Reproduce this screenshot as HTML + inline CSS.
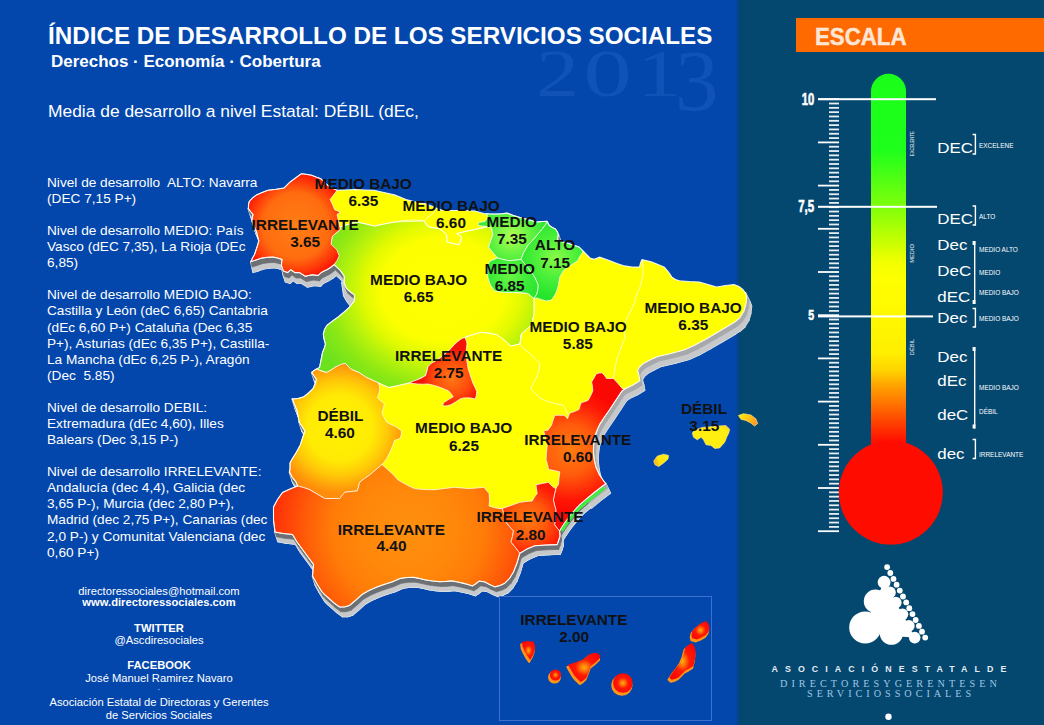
<!DOCTYPE html>
<html lang="es"><head><meta charset="utf-8"><title>Índice de desarrollo de los servicios sociales 2013</title>
<style>
html,body{margin:0;padding:0}
body{width:1044px;height:725px;overflow:hidden;background:#0347ad;font-family:"Liberation Sans",sans-serif;position:relative}
#stage{position:absolute;left:0;top:0;width:1044px;height:725px;overflow:hidden;background:#0347ad}
#panel{position:absolute;left:740.5px;top:0;width:303.5px;height:725px;background:#044870}
#pshadow{position:absolute;left:735.0px;top:0;width:6px;height:725px;background:linear-gradient(to right,rgba(4,72,112,0),rgba(3,68,104,1))}
#bar{position:absolute;left:796px;top:18px;width:248px;height:33.5px;background:#ff6a00}
#bar span{position:absolute;left:18.5px;top:3.7px;font-weight:bold;font-size:24.3px;line-height:30px;color:#fde6d6;-webkit-text-stroke:0.45px #fde6d6;transform-origin:0 50%;transform:scaleX(0.916)}
#year{position:absolute;left:533px;top:30.5px;font-family:"Liberation Serif",serif;font-weight:bold;font-size:82px;line-height:90px;color:rgba(110,165,255,0.17);white-space:nowrap;transform-origin:0 0;transform:scale(1.15,1.0)}
#title{position:absolute;left:48.4px;top:22.4px;font-weight:bold;font-size:23px;line-height:28px;color:#fff;white-space:nowrap;transform-origin:0 50%;transform:scaleX(1.0531)}
#sub{position:absolute;left:51px;top:51.5px;font-weight:bold;font-size:16.8px;line-height:20px;color:#fff;white-space:nowrap;transform-origin:0 50%;transform:scaleX(1.011)}
#media{position:absolute;left:48.3px;top:101.3px;font-size:16.3px;line-height:20px;color:#fff;white-space:nowrap;transform-origin:0 50%;transform:scaleX(1.069)}
.pl{position:absolute;left:47.3px;font-size:12.6px;line-height:16px;height:16px;color:#fff;white-space:nowrap;transform-origin:0 50%;transform:scaleX(1.084)}
.ct{position:absolute;left:8.9px;width:300px;text-align:center;font-size:11px;line-height:14px;height:14px;color:#fff;white-space:nowrap;transform:scaleX(1.018)}
.ct.b{font-weight:bold}
svg{position:absolute;left:0;top:0}
svg text{font-family:"Liberation Sans",sans-serif}
#yearg text{font-family:"Liberation Serif",serif}
.ml{font-weight:bold;font-size:14.7px;fill:#111;text-anchor:middle}
.num{font-weight:bold;font-size:13.5px;fill:#fff;stroke:#fff;stroke-width:0.6px}
.tiny{font-size:6px;fill:#e8eef5}
.dec{font-size:15.1px;fill:#fff}
.lvl{font-size:7.6px;fill:#fff}
.as1{font-weight:bold;font-size:8.8px;fill:#e4ecf5;letter-spacing:0px}
.as2{font-family:"Liberation Serif",serif;font-size:10.2px;fill:#9fc6e6;letter-spacing:0px}
</style></head>
<body>
<div id="stage">
<div id="panel"></div><div id="pshadow"></div>
<svg width="1044" height="725" viewBox="0 0 1044 725" id="yearsvg">
<g style="font-family:'Liberation Serif',serif" fill="#2a66c8" fill-opacity="0.36" id="yearg">
<text id="y2" transform="translate(536,96.3) scale(1.27,1)" font-size="68">2</text>
<text id="y0" transform="translate(583.5,96.3) scale(1.42,1)" font-size="68">0</text>
<text id="y1" transform="translate(637,96.3) scale(1.3,1)" font-size="68">1</text>
<text id="y3" transform="translate(675,109.8) scale(1.0,1)" font-size="87">3</text>
</g></svg>
<div id="title">ÍNDICE DE DESARROLLO DE LOS SERVICIOS SOCIALES</div>
<div id="sub">Derechos · Economía · Cobertura</div>
<div id="media">Media de desarrollo a nivel Estatal: DÉBIL (dEc,</div>
<div id="bar"><span>ESCALA</span></div>
<div class="pl" style="top:174.7px">Nivel de desarrollo&nbsp; ALTO: Navarra</div>
<div class="pl" style="top:190.8px">(DEC 7,15 P+)</div>
<div class="pl" style="top:223.0px">Nivel de desarrollo MEDIO: País</div>
<div class="pl" style="top:239.1px">Vasco (dEC 7,35), La Rioja (DEc</div>
<div class="pl" style="top:255.1px">6,85)</div>
<div class="pl" style="top:287.3px">Nivel de desarrollo MEDIO BAJO:</div>
<div class="pl" style="top:303.4px">Castilla y León (deC 6,65) Cantabria</div>
<div class="pl" style="top:319.5px">(dEc 6,60 P+) Cataluña (Dec 6,35</div>
<div class="pl" style="top:335.5px">P+), Asturias (dEc 6,35 P+), Castilla-</div>
<div class="pl" style="top:351.6px">La Mancha (dEc 6,25 P-), Aragón</div>
<div class="pl" style="top:367.7px">(Dec&nbsp; 5.85)</div>
<div class="pl" style="top:399.9px">Nivel de desarrollo DEBIL:</div>
<div class="pl" style="top:415.9px">Extremadura (dEc 4,60), Illes</div>
<div class="pl" style="top:432.0px">Balears (Dec 3,15 P-)</div>
<div class="pl" style="top:464.2px">Nivel de desarrollo IRRELEVANTE:</div>
<div class="pl" style="top:480.3px">Andalucía (dec 4,4), Galicia (dec</div>
<div class="pl" style="top:496.3px">3,65 P-), Murcia (dec 2,80 P+),</div>
<div class="pl" style="top:512.4px">Madrid (dec 2,75 P+), Canarias (dec</div>
<div class="pl" style="top:528.5px">2,0 P-) y Comunitat Valenciana (dec</div>
<div class="pl" style="top:544.6px">0,60 P+)</div>
<div class="ct" style="top:583.9px">directoressociales@hotmail.com</div>
<div class="ct b" style="top:595.4px">www.directoressociales.com</div>
<div class="ct b" style="top:620.7px">TWITTER</div>
<div class="ct" style="top:632.9px">@Ascdiresociales</div>
<div class="ct b" style="top:658.2px">FACEBOOK</div>
<div class="ct" style="top:670.6px">José Manuel Ramirez Navaro</div>
<div class="ct" style="top:695.4px">Asociación Estatal de Directoras y Gerentes</div>
<div class="ct" style="top:708.1px">de Servicios Sociales</div>
<svg width="1044" height="725" viewBox="0 0 1044 725">
<defs><linearGradient id="tubeg" x1="0" y1="73.8" x2="0" y2="473" gradientUnits="userSpaceOnUse"><stop offset="0" stop-color="#1aff1a"/><stop offset="0.19" stop-color="#1eff1c"/><stop offset="0.334" stop-color="#80ff0a"/><stop offset="0.434" stop-color="#d2ff00"/><stop offset="0.475" stop-color="#f4ff00"/><stop offset="0.52" stop-color="#ffff00"/><stop offset="0.697" stop-color="#fff000"/><stop offset="0.742" stop-color="#ffd400"/><stop offset="0.78" stop-color="#ffa400"/><stop offset="0.85" stop-color="#ff5a00"/><stop offset="0.917" stop-color="#ff1400"/><stop offset="1" stop-color="#ff0a00"/></linearGradient><filter id="soft" x="-10%" y="-10%" width="120%" height="120%"><feGaussianBlur stdDeviation="1.6"/></filter><clipPath id="spainclip"><path d="M301.3 173.7 L306.0 174.3 L311.7 175.3 L316.0 177.0 L320.9 178.8 L324.0 182.0 L328.0 185.5 L332.0 188.0 L337.0 190.3 L345.0 190.0 L355.0 189.5 L365.0 190.0 L373.7 190.3 L384.0 192.5 L394.4 194.9 L400.0 197.0 L405.9 199.5 L416.0 202.0 L426.6 204.1 L435.0 207.5 L442.7 210.5 L455.0 210.5 L465.0 210.5 L474.9 211.0 L480.0 212.5 L484.0 213.5 L490.0 214.0 L496.0 214.0 L501.7 213.8 L507.2 213.1 L512.8 215.2 L520.0 217.5 L528.0 219.5 L536.2 222.1 L542.0 221.5 L547.2 221.4 L549.3 225.5 L552.5 227.5 L555.5 229.0 L557.5 232.0 L558.3 234.5 L557.6 240.0 L562.0 241.8 L566.6 242.8 L573.0 245.0 L579.0 246.9 L583.1 251.0 L586.5 254.5 L590.0 257.9 L594.1 259.3 L599.7 257.2 L605.0 259.0 L610.0 260.7 L617.0 263.5 L624.5 265.9 L632.0 267.0 L639.5 267.1 L640.5 263.0 L642.0 259.6 L647.0 260.8 L652.0 262.1 L658.0 264.5 L664.4 267.1 L668.5 272.0 L671.9 277.1 L675.5 279.5 L679.3 280.8 L689.0 281.5 L699.3 282.0 L708.0 284.5 L716.7 287.0 L725.5 285.5 L734.1 284.5 L739.0 286.5 L742.8 289.5 L745.5 293.0 L746.8 296.9 L746.0 304.0 L744.0 311.0 L739.9 317.6 L735.5 321.5 L730.7 324.5 L718.0 332.0 L705.4 339.4 L695.0 345.0 L684.7 349.8 L671.0 353.5 L657.1 356.7 L650.0 360.0 L643.3 363.6 L639.5 367.0 L637.6 370.5 L639.0 375.5 L639.9 380.8 L633.0 385.0 L624.9 388.9 L622.0 391.0 L616.0 400.0 L609.6 409.7 L604.5 417.0 L599.6 424.6 L596.8 431.0 L594.6 437.1 L593.6 445.0 L593.4 452.0 L594.3 460.0 L595.9 467.0 L599.5 474.9 L603.0 480.0 L605.7 483.6 L600.0 488.0 L594.5 492.3 L587.0 498.5 L579.6 504.8 L573.0 512.0 L567.1 519.7 L563.0 525.5 L559.6 530.9 L560.0 536.0 L558.5 541.0 L557.1 544.6 L546.0 545.0 L534.7 545.8 L527.0 549.0 L519.8 553.3 L517.0 563.0 L513.5 572.0 L509.5 578.5 L504.8 583.2 L500.0 585.5 L494.9 586.9 L489.5 584.5 L484.9 582.0 L479.3 581.0 L475.5 584.0 L472.4 586.0 L468.0 584.5 L463.8 583.4 L457.5 582.0 L451.7 580.9 L445.5 581.5 L439.7 581.7 L432.5 581.0 L425.9 580.0 L419.5 578.5 L413.8 577.4 L407.0 577.5 L400.0 578.5 L392.0 582.0 L384.0 584.5 L377.0 587.0 L369.0 590.5 L362.0 594.5 L356.0 600.0 L349.5 605.5 L344.5 607.0 L339.5 607.0 L334.0 603.0 L328.5 598.0 L325.0 595.0 L322.0 592.0 L317.0 584.0 L312.5 576.0 L313.0 570.0 L313.5 564.5 L308.0 557.0 L302.5 549.5 L297.0 542.0 L292.5 534.5 L283.0 533.5 L275.0 532.0 L273.5 520.0 L273.5 507.0 L277.5 499.5 L282.5 492.5 L290.0 489.0 L297.5 486.0 L296.0 482.0 L292.0 477.0 L289.5 472.0 L290.0 468.0 L290.0 463.0 L292.3 458.7 L296.5 452.0 L300.3 444.9 L302.5 438.0 L304.9 431.1 L302.0 426.5 L299.2 422.0 L298.0 416.0 L296.9 410.5 L294.5 404.5 L292.3 399.0 L298.0 398.5 L303.8 396.7 L308.5 393.0 L313.0 388.6 L315.0 384.0 L316.4 379.4 L314.0 376.0 L311.8 372.5 L314.0 370.5 L316.4 369.1 L319.5 367.5 L321.0 360.0 L322.5 352.5 L324.5 347.5 L325.4 344.2 L324.0 339.0 L323.3 334.1 L324.5 329.5 L326.9 325.4 L332.5 321.0 L338.5 316.7 L343.5 312.5 L348.6 308.0 L351.5 304.5 L354.4 300.8 L354.4 295.0 L350.5 292.0 L347.1 289.2 L345.5 286.5 L344.2 283.4 L344.2 276.2 L340.0 270.0 L334.1 264.6 L330.5 267.5 L326.9 269.7 L324.0 271.0 L321.1 272.6 L318.2 275.5 L312.4 274.7 L305.2 276.2 L299.4 272.6 L295.0 272.6 L290.7 269.7 L287.8 272.6 L283.4 271.1 L281.3 265.3 L282.0 259.5 L277.5 258.0 L273.3 257.1 L267.5 257.3 L261.7 258.1 L256.0 260.0 L250.9 261.7 L252.5 258.0 L254.5 254.5 L256.0 250.0 L257.4 245.8 L258.8 240.9 L257.5 236.0 L256.5 231.7 L254.0 226.0 L251.9 220.2 L252.5 217.0 L253.0 214.4 L250.5 211.5 L248.4 208.7 L248.5 205.0 L249.1 201.8 L252.5 198.0 L256.5 194.9 L262.0 192.5 L268.0 190.3 L276.0 189.3 L284.0 188.0 L287.0 185.0 L289.8 182.2 L295.5 178.0Z"/></clipPath><radialGradient id="g_cyl" gradientUnits="userSpaceOnUse" cx="0" cy="0" r="1" gradientTransform="translate(443,290) scale(152,128)"><stop offset="0" stop-color="#ffff00"/><stop offset="0.40" stop-color="#fdff00"/><stop offset="0.52" stop-color="#e2fa00"/><stop offset="0.64" stop-color="#b6f20c"/><stop offset="0.77" stop-color="#8ce814"/><stop offset="0.92" stop-color="#6ce21e"/></radialGradient><radialGradient id="g_gal" gradientUnits="userSpaceOnUse" cx="296" cy="226" r="55"><stop offset="0" stop-color="#ff7e14"/><stop offset="0.6" stop-color="#ff6c10"/><stop offset="0.85" stop-color="#ff3208"/><stop offset="1" stop-color="#f80c04"/></radialGradient><radialGradient id="g_ext" gradientUnits="userSpaceOnUse" cx="340" cy="428" r="66"><stop offset="0" stop-color="#fff200"/><stop offset="0.5" stop-color="#ffea04"/><stop offset="0.72" stop-color="#ffc808"/><stop offset="0.9" stop-color="#ffa00a"/><stop offset="1" stop-color="#ff8c0a"/></radialGradient><radialGradient id="g_and" gradientUnits="userSpaceOnUse" cx="408" cy="530" r="138"><stop offset="0" stop-color="#ff900e"/><stop offset="0.35" stop-color="#ff870a"/><stop offset="0.55" stop-color="#ff7c08"/><stop offset="0.72" stop-color="#ff6008"/><stop offset="0.88" stop-color="#ff4208"/><stop offset="1" stop-color="#ff2c08"/></radialGradient><radialGradient id="g_mur" gradientUnits="userSpaceOnUse" cx="528" cy="520" r="36"><stop offset="0" stop-color="#ff7a10"/><stop offset="0.5" stop-color="#ff5a0c"/><stop offset="1" stop-color="#ff1a06"/></radialGradient><radialGradient id="g_val" gradientUnits="userSpaceOnUse" cx="570" cy="450" r="62"><stop offset="0" stop-color="#ff7c10"/><stop offset="0.4" stop-color="#ff5c0c"/><stop offset="0.8" stop-color="#ff1806"/><stop offset="1" stop-color="#fa0804"/></radialGradient><radialGradient id="g_mad" gradientUnits="userSpaceOnUse" cx="452" cy="378" r="30"><stop offset="0" stop-color="#ff7a14"/><stop offset="0.6" stop-color="#ff4a0c"/><stop offset="1" stop-color="#f51206"/></radialGradient><radialGradient id="g_bas" gradientUnits="userSpaceOnUse" cx="512" cy="236" r="34"><stop offset="0" stop-color="#b4ff52"/><stop offset="0.5" stop-color="#6af444"/><stop offset="1" stop-color="#30e830"/></radialGradient><radialGradient id="g_rio" gradientUnits="userSpaceOnUse" cx="510" cy="276" r="30"><stop offset="0" stop-color="#6af444"/><stop offset="0.6" stop-color="#3cec36"/><stop offset="1" stop-color="#2ae62e"/></radialGradient><radialGradient id="g_nav" gradientUnits="userSpaceOnUse" cx="556" cy="258" r="40"><stop offset="0" stop-color="#8cfa48"/><stop offset="0.5" stop-color="#4cf03a"/><stop offset="1" stop-color="#24e42c"/></radialGradient><linearGradient id="g_men" x1="0" y1="0" x2="1" y2="0.4"><stop offset="0" stop-color="#ffee10"/><stop offset="0.45" stop-color="#ffd010"/><stop offset="1" stop-color="#ff9a20"/></linearGradient><linearGradient id="g_ibi" x1="0" y1="0.6" x2="1" y2="0.3"><stop offset="0" stop-color="#ffa818"/><stop offset="0.35" stop-color="#ffe410"/><stop offset="1" stop-color="#ffee10"/></linearGradient><radialGradient id="g_mal" cx="0.5" cy="0.5" r="0.62"><stop offset="0" stop-color="#fff010"/><stop offset="0.8" stop-color="#ffec10"/><stop offset="1" stop-color="#ffd020"/></radialGradient><radialGradient id="g_isl" gradientUnits="objectBoundingBox" cx="0.5" cy="0.5" r="0.6"><stop offset="0" stop-color="#ffee00"/><stop offset="0.55" stop-color="#ffe000"/><stop offset="1" stop-color="#ff9a00"/></radialGradient><radialGradient id="g_can" gradientUnits="objectBoundingBox" cx="0.5" cy="0.5" r="0.55"><stop offset="0" stop-color="#ffb010"/><stop offset="0.25" stop-color="#ff6a08"/><stop offset="0.5" stop-color="#ff1a04"/><stop offset="1" stop-color="#f80804"/></radialGradient></defs>
<path d="M301.3 173.7 L306.0 174.3 L311.7 175.3 L316.0 177.0 L320.9 178.8 L324.0 182.0 L328.0 185.5 L332.0 188.0 L337.0 190.3 L345.0 190.0 L355.0 189.5 L365.0 190.0 L373.7 190.3 L384.0 192.5 L394.4 194.9 L400.0 197.0 L405.9 199.5 L416.0 202.0 L426.6 204.1 L435.0 207.5 L442.7 210.5 L455.0 210.5 L465.0 210.5 L474.9 211.0 L480.0 212.5 L484.0 213.5 L490.0 214.0 L496.0 214.0 L501.7 213.8 L507.2 213.1 L512.8 215.2 L520.0 217.5 L528.0 219.5 L536.2 222.1 L542.0 221.5 L547.2 221.4 L549.3 225.5 L552.5 227.5 L555.5 229.0 L557.5 232.0 L558.3 234.5 L557.6 240.0 L562.0 241.8 L566.6 242.8 L573.0 245.0 L579.0 246.9 L583.1 251.0 L586.5 254.5 L590.0 257.9 L594.1 259.3 L599.7 257.2 L605.0 259.0 L610.0 260.7 L617.0 263.5 L624.5 265.9 L632.0 267.0 L639.5 267.1 L640.5 263.0 L642.0 259.6 L647.0 260.8 L652.0 262.1 L658.0 264.5 L664.4 267.1 L668.5 272.0 L671.9 277.1 L675.5 279.5 L679.3 280.8 L689.0 281.5 L699.3 282.0 L708.0 284.5 L716.7 287.0 L725.5 285.5 L734.1 284.5 L739.0 286.5 L742.8 289.5 L745.5 293.0 L746.8 296.9 L746.0 304.0 L744.0 311.0 L739.9 317.6 L735.5 321.5 L730.7 324.5 L718.0 332.0 L705.4 339.4 L695.0 345.0 L684.7 349.8 L671.0 353.5 L657.1 356.7 L650.0 360.0 L643.3 363.6 L639.5 367.0 L637.6 370.5 L639.0 375.5 L639.9 380.8 L633.0 385.0 L624.9 388.9 L622.0 391.0 L616.0 400.0 L609.6 409.7 L604.5 417.0 L599.6 424.6 L596.8 431.0 L594.6 437.1 L593.6 445.0 L593.4 452.0 L594.3 460.0 L595.9 467.0 L599.5 474.9 L603.0 480.0 L605.7 483.6 L600.0 488.0 L594.5 492.3 L587.0 498.5 L579.6 504.8 L573.0 512.0 L567.1 519.7 L563.0 525.5 L559.6 530.9 L560.0 536.0 L558.5 541.0 L557.1 544.6 L546.0 545.0 L534.7 545.8 L527.0 549.0 L519.8 553.3 L517.0 563.0 L513.5 572.0 L509.5 578.5 L504.8 583.2 L500.0 585.5 L494.9 586.9 L489.5 584.5 L484.9 582.0 L479.3 581.0 L475.5 584.0 L472.4 586.0 L468.0 584.5 L463.8 583.4 L457.5 582.0 L451.7 580.9 L445.5 581.5 L439.7 581.7 L432.5 581.0 L425.9 580.0 L419.5 578.5 L413.8 577.4 L407.0 577.5 L400.0 578.5 L392.0 582.0 L384.0 584.5 L377.0 587.0 L369.0 590.5 L362.0 594.5 L356.0 600.0 L349.5 605.5 L344.5 607.0 L339.5 607.0 L334.0 603.0 L328.5 598.0 L325.0 595.0 L322.0 592.0 L317.0 584.0 L312.5 576.0 L313.0 570.0 L313.5 564.5 L308.0 557.0 L302.5 549.5 L297.0 542.0 L292.5 534.5 L283.0 533.5 L275.0 532.0 L273.5 520.0 L273.5 507.0 L277.5 499.5 L282.5 492.5 L290.0 489.0 L297.5 486.0 L296.0 482.0 L292.0 477.0 L289.5 472.0 L290.0 468.0 L290.0 463.0 L292.3 458.7 L296.5 452.0 L300.3 444.9 L302.5 438.0 L304.9 431.1 L302.0 426.5 L299.2 422.0 L298.0 416.0 L296.9 410.5 L294.5 404.5 L292.3 399.0 L298.0 398.5 L303.8 396.7 L308.5 393.0 L313.0 388.6 L315.0 384.0 L316.4 379.4 L314.0 376.0 L311.8 372.5 L314.0 370.5 L316.4 369.1 L319.5 367.5 L321.0 360.0 L322.5 352.5 L324.5 347.5 L325.4 344.2 L324.0 339.0 L323.3 334.1 L324.5 329.5 L326.9 325.4 L332.5 321.0 L338.5 316.7 L343.5 312.5 L348.6 308.0 L351.5 304.5 L354.4 300.8 L354.4 295.0 L350.5 292.0 L347.1 289.2 L345.5 286.5 L344.2 283.4 L344.2 276.2 L340.0 270.0 L334.1 264.6 L330.5 267.5 L326.9 269.7 L324.0 271.0 L321.1 272.6 L318.2 275.5 L312.4 274.7 L305.2 276.2 L299.4 272.6 L295.0 272.6 L290.7 269.7 L287.8 272.6 L283.4 271.1 L281.3 265.3 L282.0 259.5 L277.5 258.0 L273.3 257.1 L267.5 257.3 L261.7 258.1 L256.0 260.0 L250.9 261.7 L252.5 258.0 L254.5 254.5 L256.0 250.0 L257.4 245.8 L258.8 240.9 L257.5 236.0 L256.5 231.7 L254.0 226.0 L251.9 220.2 L252.5 217.0 L253.0 214.4 L250.5 211.5 L248.4 208.7 L248.5 205.0 L249.1 201.8 L252.5 198.0 L256.5 194.9 L262.0 192.5 L268.0 190.3 L276.0 189.3 L284.0 188.0 L287.0 185.0 L289.8 182.2 L295.5 178.0Z" transform="translate(3.0,9.4)" fill="#c6c8ca" stroke="#e6ecf4" stroke-width="1.6" stroke-linejoin="round"/>
<path d="M558.3 234.5L557.6 240.0L560.6 249.4L561.3 243.9Z" fill="#c6c8ca" stroke="#e6ecf4" stroke-width="1.7" stroke-linejoin="round"/>
<path d="M745.5 293.0L746.8 296.9L751.4 306.3L750.1 302.4Z" fill="#c6c8ca" stroke="#e6ecf4" stroke-width="1.7" stroke-linejoin="round"/>
<path d="M746.8 296.9L746.0 304.0L750.6 313.4L751.4 306.3Z" fill="#c6c8ca" stroke="#e6ecf4" stroke-width="1.7" stroke-linejoin="round"/>
<path d="M746.0 304.0L744.0 311.0L748.6 320.4L750.6 313.4Z" fill="#c6c8ca" stroke="#e6ecf4" stroke-width="1.7" stroke-linejoin="round"/>
<path d="M744.0 311.0L739.9 317.6L744.5 327.0L748.6 320.4Z" fill="#c6c8ca" stroke="#e6ecf4" stroke-width="1.7" stroke-linejoin="round"/>
<path d="M739.9 317.6L735.5 321.5L740.1 330.9L744.5 327.0Z" fill="#c6c8ca" stroke="#e6ecf4" stroke-width="1.7" stroke-linejoin="round"/>
<path d="M735.5 321.5L730.7 324.5L735.3 333.9L740.1 330.9Z" fill="#c6c8ca" stroke="#e6ecf4" stroke-width="1.7" stroke-linejoin="round"/>
<path d="M730.7 324.5L718.0 332.0L722.6 341.4L735.3 333.9Z" fill="#c6c8ca" stroke="#e6ecf4" stroke-width="1.7" stroke-linejoin="round"/>
<path d="M718.0 332.0L705.4 339.4L710.0 348.8L722.6 341.4Z" fill="#c6c8ca" stroke="#e6ecf4" stroke-width="1.7" stroke-linejoin="round"/>
<path d="M705.4 339.4L695.0 345.0L699.6 354.4L710.0 348.8Z" fill="#c6c8ca" stroke="#e6ecf4" stroke-width="1.7" stroke-linejoin="round"/>
<path d="M695.0 345.0L684.7 349.8L689.3 359.2L699.6 354.4Z" fill="#c6c8ca" stroke="#e6ecf4" stroke-width="1.7" stroke-linejoin="round"/>
<path d="M684.7 349.8L671.0 353.5L675.6 362.9L689.3 359.2Z" fill="#c6c8ca" stroke="#e6ecf4" stroke-width="1.7" stroke-linejoin="round"/>
<path d="M671.0 353.5L657.1 356.7L661.7 366.1L675.6 362.9Z" fill="#c6c8ca" stroke="#e6ecf4" stroke-width="1.7" stroke-linejoin="round"/>
<path d="M657.1 356.7L650.0 360.0L654.6 369.4L661.7 366.1Z" fill="#c6c8ca" stroke="#e6ecf4" stroke-width="1.7" stroke-linejoin="round"/>
<path d="M650.0 360.0L643.3 363.6L647.9 373.0L654.6 369.4Z" fill="#c6c8ca" stroke="#e6ecf4" stroke-width="1.7" stroke-linejoin="round"/>
<path d="M643.3 363.6L639.5 367.0L644.1 376.4L647.9 373.0Z" fill="#c6c8ca" stroke="#e6ecf4" stroke-width="1.7" stroke-linejoin="round"/>
<path d="M639.5 367.0L637.6 370.5L642.2 379.9L644.1 376.4Z" fill="#c6c8ca" stroke="#e6ecf4" stroke-width="1.7" stroke-linejoin="round"/>
<path d="M637.6 370.5L639.0 375.5L643.6 384.9L642.2 379.9Z" fill="#c6c8ca" stroke="#e6ecf4" stroke-width="1.7" stroke-linejoin="round"/>
<path d="M639.0 375.5L639.9 380.8L644.5 390.2L643.6 384.9Z" fill="#c6c8ca" stroke="#e6ecf4" stroke-width="1.7" stroke-linejoin="round"/>
<path d="M639.9 380.8L633.0 385.0L637.6 394.4L644.5 390.2Z" fill="#c6c8ca" stroke="#e6ecf4" stroke-width="1.7" stroke-linejoin="round"/>
<path d="M633.0 385.0L624.9 388.9L629.5 398.3L637.6 394.4Z" fill="#c6c8ca" stroke="#e6ecf4" stroke-width="1.7" stroke-linejoin="round"/>
<path d="M624.9 388.9L622.0 391.0L626.6 400.4L629.5 398.3Z" fill="#c6c8ca" stroke="#e6ecf4" stroke-width="1.7" stroke-linejoin="round"/>
<path d="M622.0 391.0L616.0 400.0L620.6 409.4L626.6 400.4Z" fill="#c6c8ca" stroke="#e6ecf4" stroke-width="1.7" stroke-linejoin="round"/>
<path d="M616.0 400.0L609.6 409.7L614.2 419.1L620.6 409.4Z" fill="#c6c8ca" stroke="#e6ecf4" stroke-width="1.7" stroke-linejoin="round"/>
<path d="M609.6 409.7L604.5 417.0L609.1 426.4L614.2 419.1Z" fill="#c6c8ca" stroke="#e6ecf4" stroke-width="1.7" stroke-linejoin="round"/>
<path d="M604.5 417.0L599.6 424.6L604.2 434.0L609.1 426.4Z" fill="#c6c8ca" stroke="#e6ecf4" stroke-width="1.7" stroke-linejoin="round"/>
<path d="M599.6 424.6L596.8 431.0L601.4 440.4L604.2 434.0Z" fill="#c6c8ca" stroke="#e6ecf4" stroke-width="1.7" stroke-linejoin="round"/>
<path d="M596.8 431.0L594.6 437.1L599.2 446.5L601.4 440.4Z" fill="#c6c8ca" stroke="#e6ecf4" stroke-width="1.7" stroke-linejoin="round"/>
<path d="M594.6 437.1L593.6 445.0L598.2 454.4L599.2 446.5Z" fill="#c6c8ca" stroke="#e6ecf4" stroke-width="1.7" stroke-linejoin="round"/>
<path d="M593.6 445.0L593.4 452.0L598.0 461.4L598.2 454.4Z" fill="#c6c8ca" stroke="#e6ecf4" stroke-width="1.7" stroke-linejoin="round"/>
<path d="M593.4 452.0L594.3 460.0L598.9 469.4L598.0 461.4Z" fill="#c6c8ca" stroke="#e6ecf4" stroke-width="1.7" stroke-linejoin="round"/>
<path d="M594.3 460.0L595.9 467.0L600.5 476.4L598.9 469.4Z" fill="#c6c8ca" stroke="#e6ecf4" stroke-width="1.7" stroke-linejoin="round"/>
<path d="M595.9 467.0L599.5 474.9L604.1 484.3L600.5 476.4Z" fill="#c6c8ca" stroke="#e6ecf4" stroke-width="1.7" stroke-linejoin="round"/>
<path d="M605.7 483.6L600.0 488.0L604.6 497.4L610.3 493.0Z" fill="#c6c8ca" stroke="#e6ecf4" stroke-width="1.7" stroke-linejoin="round"/>
<path d="M600.0 488.0L594.5 492.3L599.1 501.7L604.6 497.4Z" fill="#c6c8ca" stroke="#e6ecf4" stroke-width="1.7" stroke-linejoin="round"/>
<path d="M594.5 492.3L587.0 498.5L591.6 507.9L599.1 501.7Z" fill="#c6c8ca" stroke="#e6ecf4" stroke-width="1.7" stroke-linejoin="round"/>
<path d="M587.0 498.5L579.6 504.8L582.6 514.2L590.0 507.9Z" fill="#c6c8ca" stroke="#e6ecf4" stroke-width="1.7" stroke-linejoin="round"/>
<path d="M579.6 504.8L573.0 512.0L576.0 521.4L582.6 514.2Z" fill="#c6c8ca" stroke="#e6ecf4" stroke-width="1.7" stroke-linejoin="round"/>
<path d="M573.0 512.0L567.1 519.7L570.1 529.1L576.0 521.4Z" fill="#c6c8ca" stroke="#e6ecf4" stroke-width="1.7" stroke-linejoin="round"/>
<path d="M567.1 519.7L563.0 525.5L566.0 534.9L570.1 529.1Z" fill="#c6c8ca" stroke="#e6ecf4" stroke-width="1.7" stroke-linejoin="round"/>
<path d="M563.0 525.5L559.6 530.9L562.6 540.3L566.0 534.9Z" fill="#c6c8ca" stroke="#e6ecf4" stroke-width="1.7" stroke-linejoin="round"/>
<path d="M559.6 530.9L560.0 536.0L563.0 545.4L562.6 540.3Z" fill="#c6c8ca" stroke="#e6ecf4" stroke-width="1.7" stroke-linejoin="round"/>
<path d="M560.0 536.0L558.5 541.0L561.5 550.4L563.0 545.4Z" fill="#c6c8ca" stroke="#e6ecf4" stroke-width="1.7" stroke-linejoin="round"/>
<path d="M558.5 541.0L557.1 544.6L560.1 554.0L561.5 550.4Z" fill="#c6c8ca" stroke="#e6ecf4" stroke-width="1.7" stroke-linejoin="round"/>
<path d="M557.1 544.6L546.0 545.0L549.0 554.4L560.1 554.0Z" fill="#c6c8ca" stroke="#e6ecf4" stroke-width="1.7" stroke-linejoin="round"/>
<path d="M546.0 545.0L534.7 545.8L537.7 555.2L549.0 554.4Z" fill="#c6c8ca" stroke="#e6ecf4" stroke-width="1.7" stroke-linejoin="round"/>
<path d="M534.7 545.8L527.0 549.0L530.0 558.4L537.7 555.2Z" fill="#c6c8ca" stroke="#e6ecf4" stroke-width="1.7" stroke-linejoin="round"/>
<path d="M527.0 549.0L519.8 553.3L522.8 562.7L530.0 558.4Z" fill="#c6c8ca" stroke="#e6ecf4" stroke-width="1.7" stroke-linejoin="round"/>
<path d="M519.8 553.3L517.0 563.0L520.0 572.4L522.8 562.7Z" fill="#c6c8ca" stroke="#e6ecf4" stroke-width="1.7" stroke-linejoin="round"/>
<path d="M517.0 563.0L513.5 572.0L516.5 581.4L520.0 572.4Z" fill="#c6c8ca" stroke="#e6ecf4" stroke-width="1.7" stroke-linejoin="round"/>
<path d="M513.5 572.0L509.5 578.5L512.5 587.9L516.5 581.4Z" fill="#c6c8ca" stroke="#e6ecf4" stroke-width="1.7" stroke-linejoin="round"/>
<path d="M509.5 578.5L504.8 583.2L507.8 592.6L512.5 587.9Z" fill="#c6c8ca" stroke="#e6ecf4" stroke-width="1.7" stroke-linejoin="round"/>
<path d="M504.8 583.2L500.0 585.5L503.0 594.9L507.8 592.6Z" fill="#c6c8ca" stroke="#e6ecf4" stroke-width="1.7" stroke-linejoin="round"/>
<path d="M500.0 585.5L494.9 586.9L497.9 596.3L503.0 594.9Z" fill="#c6c8ca" stroke="#e6ecf4" stroke-width="1.7" stroke-linejoin="round"/>
<path d="M494.9 586.9L489.5 584.5L492.5 593.9L497.9 596.3Z" fill="#c6c8ca" stroke="#e6ecf4" stroke-width="1.7" stroke-linejoin="round"/>
<path d="M489.5 584.5L484.9 582.0L487.9 591.4L492.5 593.9Z" fill="#c6c8ca" stroke="#e6ecf4" stroke-width="1.7" stroke-linejoin="round"/>
<path d="M484.9 582.0L479.3 581.0L482.3 590.4L487.9 591.4Z" fill="#c6c8ca" stroke="#e6ecf4" stroke-width="1.7" stroke-linejoin="round"/>
<path d="M479.3 581.0L475.5 584.0L478.5 593.4L482.3 590.4Z" fill="#c6c8ca" stroke="#e6ecf4" stroke-width="1.7" stroke-linejoin="round"/>
<path d="M475.5 584.0L472.4 586.0L475.4 595.4L478.5 593.4Z" fill="#c6c8ca" stroke="#e6ecf4" stroke-width="1.7" stroke-linejoin="round"/>
<path d="M472.4 586.0L468.0 584.5L471.0 593.9L475.4 595.4Z" fill="#c6c8ca" stroke="#e6ecf4" stroke-width="1.7" stroke-linejoin="round"/>
<path d="M468.0 584.5L463.8 583.4L466.8 592.8L471.0 593.9Z" fill="#c6c8ca" stroke="#e6ecf4" stroke-width="1.7" stroke-linejoin="round"/>
<path d="M463.8 583.4L457.5 582.0L460.5 591.4L466.8 592.8Z" fill="#c6c8ca" stroke="#e6ecf4" stroke-width="1.7" stroke-linejoin="round"/>
<path d="M457.5 582.0L451.7 580.9L454.7 590.3L460.5 591.4Z" fill="#c6c8ca" stroke="#e6ecf4" stroke-width="1.7" stroke-linejoin="round"/>
<path d="M451.7 580.9L445.5 581.5L448.5 590.9L454.7 590.3Z" fill="#c6c8ca" stroke="#e6ecf4" stroke-width="1.7" stroke-linejoin="round"/>
<path d="M445.5 581.5L439.7 581.7L442.7 591.1L448.5 590.9Z" fill="#c6c8ca" stroke="#e6ecf4" stroke-width="1.7" stroke-linejoin="round"/>
<path d="M439.7 581.7L432.5 581.0L435.5 590.4L442.7 591.1Z" fill="#c6c8ca" stroke="#e6ecf4" stroke-width="1.7" stroke-linejoin="round"/>
<path d="M432.5 581.0L425.9 580.0L428.9 589.4L435.5 590.4Z" fill="#c6c8ca" stroke="#e6ecf4" stroke-width="1.7" stroke-linejoin="round"/>
<path d="M425.9 580.0L419.5 578.5L422.5 587.9L428.9 589.4Z" fill="#c6c8ca" stroke="#e6ecf4" stroke-width="1.7" stroke-linejoin="round"/>
<path d="M419.5 578.5L413.8 577.4L416.8 586.8L422.5 587.9Z" fill="#c6c8ca" stroke="#e6ecf4" stroke-width="1.7" stroke-linejoin="round"/>
<path d="M413.8 577.4L407.0 577.5L410.0 586.9L416.8 586.8Z" fill="#c6c8ca" stroke="#e6ecf4" stroke-width="1.7" stroke-linejoin="round"/>
<path d="M407.0 577.5L400.0 578.5L403.0 587.9L410.0 586.9Z" fill="#c6c8ca" stroke="#e6ecf4" stroke-width="1.7" stroke-linejoin="round"/>
<path d="M400.0 578.5L392.0 582.0L395.0 591.4L403.0 587.9Z" fill="#c6c8ca" stroke="#e6ecf4" stroke-width="1.7" stroke-linejoin="round"/>
<path d="M392.0 582.0L384.0 584.5L387.0 593.9L395.0 591.4Z" fill="#c6c8ca" stroke="#e6ecf4" stroke-width="1.7" stroke-linejoin="round"/>
<path d="M384.0 584.5L377.0 587.0L380.0 596.4L387.0 593.9Z" fill="#c6c8ca" stroke="#e6ecf4" stroke-width="1.7" stroke-linejoin="round"/>
<path d="M377.0 587.0L369.0 590.5L372.0 599.9L380.0 596.4Z" fill="#c6c8ca" stroke="#e6ecf4" stroke-width="1.7" stroke-linejoin="round"/>
<path d="M369.0 590.5L362.0 594.5L365.0 603.9L372.0 599.9Z" fill="#c6c8ca" stroke="#e6ecf4" stroke-width="1.7" stroke-linejoin="round"/>
<path d="M362.0 594.5L356.0 600.0L359.0 609.4L365.0 603.9Z" fill="#c6c8ca" stroke="#e6ecf4" stroke-width="1.7" stroke-linejoin="round"/>
<path d="M356.0 600.0L349.5 605.5L352.5 614.9L359.0 609.4Z" fill="#c6c8ca" stroke="#e6ecf4" stroke-width="1.7" stroke-linejoin="round"/>
<path d="M349.5 605.5L344.5 607.0L347.5 616.4L352.5 614.9Z" fill="#c6c8ca" stroke="#e6ecf4" stroke-width="1.7" stroke-linejoin="round"/>
<path d="M344.5 607.0L339.5 607.0L342.5 616.4L347.5 616.4Z" fill="#c6c8ca" stroke="#e6ecf4" stroke-width="1.7" stroke-linejoin="round"/>
<path d="M339.5 607.0L334.0 603.0L337.0 612.4L342.5 616.4Z" fill="#c6c8ca" stroke="#e6ecf4" stroke-width="1.7" stroke-linejoin="round"/>
<path d="M334.0 603.0L328.5 598.0L331.5 607.4L337.0 612.4Z" fill="#c6c8ca" stroke="#e6ecf4" stroke-width="1.7" stroke-linejoin="round"/>
<path d="M328.5 598.0L325.0 595.0L328.0 604.4L331.5 607.4Z" fill="#c6c8ca" stroke="#e6ecf4" stroke-width="1.7" stroke-linejoin="round"/>
<path d="M325.0 595.0L322.0 592.0L325.0 601.4L328.0 604.4Z" fill="#c6c8ca" stroke="#e6ecf4" stroke-width="1.7" stroke-linejoin="round"/>
<path d="M322.0 592.0L317.0 584.0L320.0 593.4L325.0 601.4Z" fill="#c6c8ca" stroke="#e6ecf4" stroke-width="1.7" stroke-linejoin="round"/>
<path d="M317.0 584.0L312.5 576.0L315.5 585.4L320.0 593.4Z" fill="#c6c8ca" stroke="#e6ecf4" stroke-width="1.7" stroke-linejoin="round"/>
<path d="M313.5 564.5L308.0 557.0L311.0 566.4L316.5 573.9Z" fill="#c6c8ca" stroke="#e6ecf4" stroke-width="1.7" stroke-linejoin="round"/>
<path d="M308.0 557.0L302.5 549.5L305.5 558.9L311.0 566.4Z" fill="#c6c8ca" stroke="#e6ecf4" stroke-width="1.7" stroke-linejoin="round"/>
<path d="M302.5 549.5L297.0 542.0L300.0 551.4L305.5 558.9Z" fill="#c6c8ca" stroke="#e6ecf4" stroke-width="1.7" stroke-linejoin="round"/>
<path d="M297.0 542.0L292.5 534.5L295.5 543.9L300.0 551.4Z" fill="#c6c8ca" stroke="#e6ecf4" stroke-width="1.7" stroke-linejoin="round"/>
<path d="M292.5 534.5L283.0 533.5L286.0 542.9L295.5 543.9Z" fill="#c6c8ca" stroke="#e6ecf4" stroke-width="1.7" stroke-linejoin="round"/>
<path d="M283.0 533.5L275.0 532.0L278.0 541.4L286.0 542.9Z" fill="#c6c8ca" stroke="#e6ecf4" stroke-width="1.7" stroke-linejoin="round"/>
<path d="M297.5 486.0L296.0 482.0L299.0 491.4L300.5 495.4Z" fill="#c6c8ca" stroke="#e6ecf4" stroke-width="1.7" stroke-linejoin="round"/>
<path d="M296.0 482.0L292.0 477.0L295.0 486.4L299.0 491.4Z" fill="#c6c8ca" stroke="#e6ecf4" stroke-width="1.7" stroke-linejoin="round"/>
<path d="M292.0 477.0L289.5 472.0L292.5 481.4L295.0 486.4Z" fill="#c6c8ca" stroke="#e6ecf4" stroke-width="1.7" stroke-linejoin="round"/>
<path d="M304.9 431.1L302.0 426.5L305.0 435.9L307.9 440.5Z" fill="#c6c8ca" stroke="#e6ecf4" stroke-width="1.7" stroke-linejoin="round"/>
<path d="M302.0 426.5L299.2 422.0L302.2 431.4L305.0 435.9Z" fill="#c6c8ca" stroke="#e6ecf4" stroke-width="1.7" stroke-linejoin="round"/>
<path d="M296.9 410.5L294.5 404.5L297.5 413.9L299.9 419.9Z" fill="#c6c8ca" stroke="#e6ecf4" stroke-width="1.7" stroke-linejoin="round"/>
<path d="M294.5 404.5L292.3 399.0L295.3 408.4L297.5 413.9Z" fill="#c6c8ca" stroke="#e6ecf4" stroke-width="1.7" stroke-linejoin="round"/>
<path d="M316.4 379.4L314.0 376.0L317.0 385.4L319.4 388.8Z" fill="#c6c8ca" stroke="#e6ecf4" stroke-width="1.7" stroke-linejoin="round"/>
<path d="M314.0 376.0L311.8 372.5L314.8 381.9L317.0 385.4Z" fill="#c6c8ca" stroke="#e6ecf4" stroke-width="1.7" stroke-linejoin="round"/>
<path d="M354.4 295.0L350.5 292.0L353.5 301.4L357.4 304.4Z" fill="#c6c8ca" stroke="#e6ecf4" stroke-width="1.7" stroke-linejoin="round"/>
<path d="M350.5 292.0L347.1 289.2L350.1 298.6L353.5 301.4Z" fill="#c6c8ca" stroke="#e6ecf4" stroke-width="1.7" stroke-linejoin="round"/>
<path d="M347.1 289.2L345.5 286.5L348.5 295.9L350.1 298.6Z" fill="#c6c8ca" stroke="#e6ecf4" stroke-width="1.7" stroke-linejoin="round"/>
<path d="M345.5 286.5L344.2 283.4L347.2 292.8L348.5 295.9Z" fill="#c6c8ca" stroke="#e6ecf4" stroke-width="1.7" stroke-linejoin="round"/>
<path d="M344.2 276.2L340.0 270.0L342.2 280.6L346.4 286.8Z" fill="#c6c8ca" stroke="#e6ecf4" stroke-width="1.7" stroke-linejoin="round"/>
<path d="M340.0 270.0L334.1 264.6L336.3 275.2L342.2 280.6Z" fill="#c6c8ca" stroke="#e6ecf4" stroke-width="1.7" stroke-linejoin="round"/>
<path d="M334.1 264.6L330.5 267.5L332.7 278.1L336.3 275.2Z" fill="#c6c8ca" stroke="#e6ecf4" stroke-width="1.7" stroke-linejoin="round"/>
<path d="M330.5 267.5L326.9 269.7L329.1 280.3L332.7 278.1Z" fill="#c6c8ca" stroke="#e6ecf4" stroke-width="1.7" stroke-linejoin="round"/>
<path d="M326.9 269.7L324.0 271.0L326.2 281.6L329.1 280.3Z" fill="#c6c8ca" stroke="#e6ecf4" stroke-width="1.7" stroke-linejoin="round"/>
<path d="M324.0 271.0L321.1 272.6L323.3 283.2L326.2 281.6Z" fill="#c6c8ca" stroke="#e6ecf4" stroke-width="1.7" stroke-linejoin="round"/>
<path d="M321.1 272.6L318.2 275.5L320.4 286.1L323.3 283.2Z" fill="#c6c8ca" stroke="#e6ecf4" stroke-width="1.7" stroke-linejoin="round"/>
<path d="M318.2 275.5L312.4 274.7L314.6 285.3L320.4 286.1Z" fill="#c6c8ca" stroke="#e6ecf4" stroke-width="1.7" stroke-linejoin="round"/>
<path d="M312.4 274.7L305.2 276.2L307.4 286.8L314.6 285.3Z" fill="#c6c8ca" stroke="#e6ecf4" stroke-width="1.7" stroke-linejoin="round"/>
<path d="M305.2 276.2L299.4 272.6L301.6 283.2L307.4 286.8Z" fill="#c6c8ca" stroke="#e6ecf4" stroke-width="1.7" stroke-linejoin="round"/>
<path d="M299.4 272.6L295.0 272.6L297.2 283.2L301.6 283.2Z" fill="#c6c8ca" stroke="#e6ecf4" stroke-width="1.7" stroke-linejoin="round"/>
<path d="M295.0 272.6L290.7 269.7L292.9 280.3L297.2 283.2Z" fill="#c6c8ca" stroke="#e6ecf4" stroke-width="1.7" stroke-linejoin="round"/>
<path d="M290.7 269.7L287.8 272.6L290.0 283.2L292.9 280.3Z" fill="#c6c8ca" stroke="#e6ecf4" stroke-width="1.7" stroke-linejoin="round"/>
<path d="M287.8 272.6L283.4 271.1L285.6 281.7L290.0 283.2Z" fill="#c6c8ca" stroke="#e6ecf4" stroke-width="1.7" stroke-linejoin="round"/>
<path d="M283.4 271.1L281.3 265.3L283.5 275.9L285.6 281.7Z" fill="#c6c8ca" stroke="#e6ecf4" stroke-width="1.7" stroke-linejoin="round"/>
<path d="M282.0 259.5L277.5 258.0L279.7 268.6L284.2 270.1Z" fill="#c6c8ca" stroke="#e6ecf4" stroke-width="1.7" stroke-linejoin="round"/>
<path d="M277.5 258.0L273.3 257.1L275.5 267.7L279.7 268.6Z" fill="#c6c8ca" stroke="#e6ecf4" stroke-width="1.7" stroke-linejoin="round"/>
<path d="M273.3 257.1L267.5 257.3L269.7 267.9L275.5 267.7Z" fill="#c6c8ca" stroke="#e6ecf4" stroke-width="1.7" stroke-linejoin="round"/>
<path d="M267.5 257.3L261.7 258.1L263.9 268.7L269.7 267.9Z" fill="#c6c8ca" stroke="#e6ecf4" stroke-width="1.7" stroke-linejoin="round"/>
<path d="M261.7 258.1L256.0 260.0L258.2 270.6L263.9 268.7Z" fill="#c6c8ca" stroke="#e6ecf4" stroke-width="1.7" stroke-linejoin="round"/>
<path d="M256.0 260.0L250.9 261.7L253.1 272.3L258.2 270.6Z" fill="#c6c8ca" stroke="#e6ecf4" stroke-width="1.7" stroke-linejoin="round"/>
<path d="M256.5 231.7L254.0 226.0L257.0 235.4L259.5 241.1Z" fill="#c6c8ca" stroke="#e6ecf4" stroke-width="1.7" stroke-linejoin="round"/>
<path d="M254.0 226.0L251.9 220.2L254.9 229.6L257.0 235.4Z" fill="#c6c8ca" stroke="#e6ecf4" stroke-width="1.7" stroke-linejoin="round"/>
<path d="M253.0 214.4L250.5 211.5L253.5 220.9L256.0 223.8Z" fill="#c6c8ca" stroke="#e6ecf4" stroke-width="1.7" stroke-linejoin="round"/>
<path d="M250.5 211.5L248.4 208.7L251.4 218.1L253.5 220.9Z" fill="#c6c8ca" stroke="#e6ecf4" stroke-width="1.7" stroke-linejoin="round"/>
<path d="M558.3 234.5L557.6 240.0L560.6 249.4L561.3 243.9Z" fill="#c6c8ca" stroke="#c6c8ca" stroke-width="0.7" stroke-linejoin="round"/>
<path d="M745.5 293.0L746.8 296.9L751.4 306.3L750.1 302.4Z" fill="#c6c8ca" stroke="#c6c8ca" stroke-width="0.7" stroke-linejoin="round"/>
<path d="M746.8 296.9L746.0 304.0L750.6 313.4L751.4 306.3Z" fill="#c6c8ca" stroke="#c6c8ca" stroke-width="0.7" stroke-linejoin="round"/>
<path d="M746.0 304.0L744.0 311.0L748.6 320.4L750.6 313.4Z" fill="#c6c8ca" stroke="#c6c8ca" stroke-width="0.7" stroke-linejoin="round"/>
<path d="M744.0 311.0L739.9 317.6L744.5 327.0L748.6 320.4Z" fill="#c6c8ca" stroke="#c6c8ca" stroke-width="0.7" stroke-linejoin="round"/>
<path d="M739.9 317.6L735.5 321.5L740.1 330.9L744.5 327.0Z" fill="#c6c8ca" stroke="#c6c8ca" stroke-width="0.7" stroke-linejoin="round"/>
<path d="M735.5 321.5L730.7 324.5L735.3 333.9L740.1 330.9Z" fill="#c6c8ca" stroke="#c6c8ca" stroke-width="0.7" stroke-linejoin="round"/>
<path d="M730.7 324.5L718.0 332.0L722.6 341.4L735.3 333.9Z" fill="#c6c8ca" stroke="#c6c8ca" stroke-width="0.7" stroke-linejoin="round"/>
<path d="M718.0 332.0L705.4 339.4L710.0 348.8L722.6 341.4Z" fill="#c6c8ca" stroke="#c6c8ca" stroke-width="0.7" stroke-linejoin="round"/>
<path d="M705.4 339.4L695.0 345.0L699.6 354.4L710.0 348.8Z" fill="#c6c8ca" stroke="#c6c8ca" stroke-width="0.7" stroke-linejoin="round"/>
<path d="M695.0 345.0L684.7 349.8L689.3 359.2L699.6 354.4Z" fill="#c6c8ca" stroke="#c6c8ca" stroke-width="0.7" stroke-linejoin="round"/>
<path d="M684.7 349.8L671.0 353.5L675.6 362.9L689.3 359.2Z" fill="#c6c8ca" stroke="#c6c8ca" stroke-width="0.7" stroke-linejoin="round"/>
<path d="M671.0 353.5L657.1 356.7L661.7 366.1L675.6 362.9Z" fill="#c6c8ca" stroke="#c6c8ca" stroke-width="0.7" stroke-linejoin="round"/>
<path d="M657.1 356.7L650.0 360.0L654.6 369.4L661.7 366.1Z" fill="#c6c8ca" stroke="#c6c8ca" stroke-width="0.7" stroke-linejoin="round"/>
<path d="M650.0 360.0L643.3 363.6L647.9 373.0L654.6 369.4Z" fill="#c6c8ca" stroke="#c6c8ca" stroke-width="0.7" stroke-linejoin="round"/>
<path d="M643.3 363.6L639.5 367.0L644.1 376.4L647.9 373.0Z" fill="#c6c8ca" stroke="#c6c8ca" stroke-width="0.7" stroke-linejoin="round"/>
<path d="M639.5 367.0L637.6 370.5L642.2 379.9L644.1 376.4Z" fill="#c6c8ca" stroke="#c6c8ca" stroke-width="0.7" stroke-linejoin="round"/>
<path d="M637.6 370.5L639.0 375.5L643.6 384.9L642.2 379.9Z" fill="#c6c8ca" stroke="#c6c8ca" stroke-width="0.7" stroke-linejoin="round"/>
<path d="M639.0 375.5L639.9 380.8L644.5 390.2L643.6 384.9Z" fill="#c6c8ca" stroke="#c6c8ca" stroke-width="0.7" stroke-linejoin="round"/>
<path d="M639.9 380.8L633.0 385.0L637.6 394.4L644.5 390.2Z" fill="#c6c8ca" stroke="#c6c8ca" stroke-width="0.7" stroke-linejoin="round"/>
<path d="M633.0 385.0L624.9 388.9L629.5 398.3L637.6 394.4Z" fill="#c6c8ca" stroke="#c6c8ca" stroke-width="0.7" stroke-linejoin="round"/>
<path d="M624.9 388.9L622.0 391.0L626.6 400.4L629.5 398.3Z" fill="#c6c8ca" stroke="#c6c8ca" stroke-width="0.7" stroke-linejoin="round"/>
<path d="M622.0 391.0L616.0 400.0L620.6 409.4L626.6 400.4Z" fill="#c6c8ca" stroke="#c6c8ca" stroke-width="0.7" stroke-linejoin="round"/>
<path d="M616.0 400.0L609.6 409.7L614.2 419.1L620.6 409.4Z" fill="#c6c8ca" stroke="#c6c8ca" stroke-width="0.7" stroke-linejoin="round"/>
<path d="M609.6 409.7L604.5 417.0L609.1 426.4L614.2 419.1Z" fill="#c6c8ca" stroke="#c6c8ca" stroke-width="0.7" stroke-linejoin="round"/>
<path d="M604.5 417.0L599.6 424.6L604.2 434.0L609.1 426.4Z" fill="#c6c8ca" stroke="#c6c8ca" stroke-width="0.7" stroke-linejoin="round"/>
<path d="M599.6 424.6L596.8 431.0L601.4 440.4L604.2 434.0Z" fill="#c6c8ca" stroke="#c6c8ca" stroke-width="0.7" stroke-linejoin="round"/>
<path d="M596.8 431.0L594.6 437.1L599.2 446.5L601.4 440.4Z" fill="#c6c8ca" stroke="#c6c8ca" stroke-width="0.7" stroke-linejoin="round"/>
<path d="M594.6 437.1L593.6 445.0L598.2 454.4L599.2 446.5Z" fill="#c6c8ca" stroke="#c6c8ca" stroke-width="0.7" stroke-linejoin="round"/>
<path d="M593.6 445.0L593.4 452.0L598.0 461.4L598.2 454.4Z" fill="#c6c8ca" stroke="#c6c8ca" stroke-width="0.7" stroke-linejoin="round"/>
<path d="M593.4 452.0L594.3 460.0L598.9 469.4L598.0 461.4Z" fill="#c6c8ca" stroke="#c6c8ca" stroke-width="0.7" stroke-linejoin="round"/>
<path d="M594.3 460.0L595.9 467.0L600.5 476.4L598.9 469.4Z" fill="#c6c8ca" stroke="#c6c8ca" stroke-width="0.7" stroke-linejoin="round"/>
<path d="M595.9 467.0L599.5 474.9L604.1 484.3L600.5 476.4Z" fill="#c6c8ca" stroke="#c6c8ca" stroke-width="0.7" stroke-linejoin="round"/>
<path d="M605.7 483.6L600.0 488.0L604.6 497.4L610.3 493.0Z" fill="#c6c8ca" stroke="#c6c8ca" stroke-width="0.7" stroke-linejoin="round"/>
<path d="M600.0 488.0L594.5 492.3L599.1 501.7L604.6 497.4Z" fill="#c6c8ca" stroke="#c6c8ca" stroke-width="0.7" stroke-linejoin="round"/>
<path d="M594.5 492.3L587.0 498.5L591.6 507.9L599.1 501.7Z" fill="#c6c8ca" stroke="#c6c8ca" stroke-width="0.7" stroke-linejoin="round"/>
<path d="M587.0 498.5L579.6 504.8L582.6 514.2L590.0 507.9Z" fill="#c6c8ca" stroke="#c6c8ca" stroke-width="0.7" stroke-linejoin="round"/>
<path d="M579.6 504.8L573.0 512.0L576.0 521.4L582.6 514.2Z" fill="#c6c8ca" stroke="#c6c8ca" stroke-width="0.7" stroke-linejoin="round"/>
<path d="M573.0 512.0L567.1 519.7L570.1 529.1L576.0 521.4Z" fill="#c6c8ca" stroke="#c6c8ca" stroke-width="0.7" stroke-linejoin="round"/>
<path d="M567.1 519.7L563.0 525.5L566.0 534.9L570.1 529.1Z" fill="#c6c8ca" stroke="#c6c8ca" stroke-width="0.7" stroke-linejoin="round"/>
<path d="M563.0 525.5L559.6 530.9L562.6 540.3L566.0 534.9Z" fill="#c6c8ca" stroke="#c6c8ca" stroke-width="0.7" stroke-linejoin="round"/>
<path d="M559.6 530.9L560.0 536.0L563.0 545.4L562.6 540.3Z" fill="#c6c8ca" stroke="#c6c8ca" stroke-width="0.7" stroke-linejoin="round"/>
<path d="M560.0 536.0L558.5 541.0L561.5 550.4L563.0 545.4Z" fill="#c6c8ca" stroke="#c6c8ca" stroke-width="0.7" stroke-linejoin="round"/>
<path d="M558.5 541.0L557.1 544.6L560.1 554.0L561.5 550.4Z" fill="#c6c8ca" stroke="#c6c8ca" stroke-width="0.7" stroke-linejoin="round"/>
<path d="M557.1 544.6L546.0 545.0L549.0 554.4L560.1 554.0Z" fill="#c6c8ca" stroke="#c6c8ca" stroke-width="0.7" stroke-linejoin="round"/>
<path d="M546.0 545.0L534.7 545.8L537.7 555.2L549.0 554.4Z" fill="#c6c8ca" stroke="#c6c8ca" stroke-width="0.7" stroke-linejoin="round"/>
<path d="M534.7 545.8L527.0 549.0L530.0 558.4L537.7 555.2Z" fill="#c6c8ca" stroke="#c6c8ca" stroke-width="0.7" stroke-linejoin="round"/>
<path d="M527.0 549.0L519.8 553.3L522.8 562.7L530.0 558.4Z" fill="#c6c8ca" stroke="#c6c8ca" stroke-width="0.7" stroke-linejoin="round"/>
<path d="M519.8 553.3L517.0 563.0L520.0 572.4L522.8 562.7Z" fill="#c6c8ca" stroke="#c6c8ca" stroke-width="0.7" stroke-linejoin="round"/>
<path d="M517.0 563.0L513.5 572.0L516.5 581.4L520.0 572.4Z" fill="#c6c8ca" stroke="#c6c8ca" stroke-width="0.7" stroke-linejoin="round"/>
<path d="M513.5 572.0L509.5 578.5L512.5 587.9L516.5 581.4Z" fill="#c6c8ca" stroke="#c6c8ca" stroke-width="0.7" stroke-linejoin="round"/>
<path d="M509.5 578.5L504.8 583.2L507.8 592.6L512.5 587.9Z" fill="#c6c8ca" stroke="#c6c8ca" stroke-width="0.7" stroke-linejoin="round"/>
<path d="M504.8 583.2L500.0 585.5L503.0 594.9L507.8 592.6Z" fill="#c6c8ca" stroke="#c6c8ca" stroke-width="0.7" stroke-linejoin="round"/>
<path d="M500.0 585.5L494.9 586.9L497.9 596.3L503.0 594.9Z" fill="#c6c8ca" stroke="#c6c8ca" stroke-width="0.7" stroke-linejoin="round"/>
<path d="M494.9 586.9L489.5 584.5L492.5 593.9L497.9 596.3Z" fill="#c6c8ca" stroke="#c6c8ca" stroke-width="0.7" stroke-linejoin="round"/>
<path d="M489.5 584.5L484.9 582.0L487.9 591.4L492.5 593.9Z" fill="#c6c8ca" stroke="#c6c8ca" stroke-width="0.7" stroke-linejoin="round"/>
<path d="M484.9 582.0L479.3 581.0L482.3 590.4L487.9 591.4Z" fill="#c6c8ca" stroke="#c6c8ca" stroke-width="0.7" stroke-linejoin="round"/>
<path d="M479.3 581.0L475.5 584.0L478.5 593.4L482.3 590.4Z" fill="#c6c8ca" stroke="#c6c8ca" stroke-width="0.7" stroke-linejoin="round"/>
<path d="M475.5 584.0L472.4 586.0L475.4 595.4L478.5 593.4Z" fill="#c6c8ca" stroke="#c6c8ca" stroke-width="0.7" stroke-linejoin="round"/>
<path d="M472.4 586.0L468.0 584.5L471.0 593.9L475.4 595.4Z" fill="#c6c8ca" stroke="#c6c8ca" stroke-width="0.7" stroke-linejoin="round"/>
<path d="M468.0 584.5L463.8 583.4L466.8 592.8L471.0 593.9Z" fill="#c6c8ca" stroke="#c6c8ca" stroke-width="0.7" stroke-linejoin="round"/>
<path d="M463.8 583.4L457.5 582.0L460.5 591.4L466.8 592.8Z" fill="#c6c8ca" stroke="#c6c8ca" stroke-width="0.7" stroke-linejoin="round"/>
<path d="M457.5 582.0L451.7 580.9L454.7 590.3L460.5 591.4Z" fill="#c6c8ca" stroke="#c6c8ca" stroke-width="0.7" stroke-linejoin="round"/>
<path d="M451.7 580.9L445.5 581.5L448.5 590.9L454.7 590.3Z" fill="#c6c8ca" stroke="#c6c8ca" stroke-width="0.7" stroke-linejoin="round"/>
<path d="M445.5 581.5L439.7 581.7L442.7 591.1L448.5 590.9Z" fill="#c6c8ca" stroke="#c6c8ca" stroke-width="0.7" stroke-linejoin="round"/>
<path d="M439.7 581.7L432.5 581.0L435.5 590.4L442.7 591.1Z" fill="#c6c8ca" stroke="#c6c8ca" stroke-width="0.7" stroke-linejoin="round"/>
<path d="M432.5 581.0L425.9 580.0L428.9 589.4L435.5 590.4Z" fill="#c6c8ca" stroke="#c6c8ca" stroke-width="0.7" stroke-linejoin="round"/>
<path d="M425.9 580.0L419.5 578.5L422.5 587.9L428.9 589.4Z" fill="#c6c8ca" stroke="#c6c8ca" stroke-width="0.7" stroke-linejoin="round"/>
<path d="M419.5 578.5L413.8 577.4L416.8 586.8L422.5 587.9Z" fill="#c6c8ca" stroke="#c6c8ca" stroke-width="0.7" stroke-linejoin="round"/>
<path d="M413.8 577.4L407.0 577.5L410.0 586.9L416.8 586.8Z" fill="#c6c8ca" stroke="#c6c8ca" stroke-width="0.7" stroke-linejoin="round"/>
<path d="M407.0 577.5L400.0 578.5L403.0 587.9L410.0 586.9Z" fill="#c6c8ca" stroke="#c6c8ca" stroke-width="0.7" stroke-linejoin="round"/>
<path d="M400.0 578.5L392.0 582.0L395.0 591.4L403.0 587.9Z" fill="#c6c8ca" stroke="#c6c8ca" stroke-width="0.7" stroke-linejoin="round"/>
<path d="M392.0 582.0L384.0 584.5L387.0 593.9L395.0 591.4Z" fill="#c6c8ca" stroke="#c6c8ca" stroke-width="0.7" stroke-linejoin="round"/>
<path d="M384.0 584.5L377.0 587.0L380.0 596.4L387.0 593.9Z" fill="#c6c8ca" stroke="#c6c8ca" stroke-width="0.7" stroke-linejoin="round"/>
<path d="M377.0 587.0L369.0 590.5L372.0 599.9L380.0 596.4Z" fill="#c6c8ca" stroke="#c6c8ca" stroke-width="0.7" stroke-linejoin="round"/>
<path d="M369.0 590.5L362.0 594.5L365.0 603.9L372.0 599.9Z" fill="#c6c8ca" stroke="#c6c8ca" stroke-width="0.7" stroke-linejoin="round"/>
<path d="M362.0 594.5L356.0 600.0L359.0 609.4L365.0 603.9Z" fill="#c6c8ca" stroke="#c6c8ca" stroke-width="0.7" stroke-linejoin="round"/>
<path d="M356.0 600.0L349.5 605.5L352.5 614.9L359.0 609.4Z" fill="#c6c8ca" stroke="#c6c8ca" stroke-width="0.7" stroke-linejoin="round"/>
<path d="M349.5 605.5L344.5 607.0L347.5 616.4L352.5 614.9Z" fill="#c6c8ca" stroke="#c6c8ca" stroke-width="0.7" stroke-linejoin="round"/>
<path d="M344.5 607.0L339.5 607.0L342.5 616.4L347.5 616.4Z" fill="#c6c8ca" stroke="#c6c8ca" stroke-width="0.7" stroke-linejoin="round"/>
<path d="M339.5 607.0L334.0 603.0L337.0 612.4L342.5 616.4Z" fill="#c6c8ca" stroke="#c6c8ca" stroke-width="0.7" stroke-linejoin="round"/>
<path d="M334.0 603.0L328.5 598.0L331.5 607.4L337.0 612.4Z" fill="#c6c8ca" stroke="#c6c8ca" stroke-width="0.7" stroke-linejoin="round"/>
<path d="M328.5 598.0L325.0 595.0L328.0 604.4L331.5 607.4Z" fill="#c6c8ca" stroke="#c6c8ca" stroke-width="0.7" stroke-linejoin="round"/>
<path d="M325.0 595.0L322.0 592.0L325.0 601.4L328.0 604.4Z" fill="#c6c8ca" stroke="#c6c8ca" stroke-width="0.7" stroke-linejoin="round"/>
<path d="M322.0 592.0L317.0 584.0L320.0 593.4L325.0 601.4Z" fill="#c6c8ca" stroke="#c6c8ca" stroke-width="0.7" stroke-linejoin="round"/>
<path d="M317.0 584.0L312.5 576.0L315.5 585.4L320.0 593.4Z" fill="#c6c8ca" stroke="#c6c8ca" stroke-width="0.7" stroke-linejoin="round"/>
<path d="M313.5 564.5L308.0 557.0L311.0 566.4L316.5 573.9Z" fill="#c6c8ca" stroke="#c6c8ca" stroke-width="0.7" stroke-linejoin="round"/>
<path d="M308.0 557.0L302.5 549.5L305.5 558.9L311.0 566.4Z" fill="#c6c8ca" stroke="#c6c8ca" stroke-width="0.7" stroke-linejoin="round"/>
<path d="M302.5 549.5L297.0 542.0L300.0 551.4L305.5 558.9Z" fill="#c6c8ca" stroke="#c6c8ca" stroke-width="0.7" stroke-linejoin="round"/>
<path d="M297.0 542.0L292.5 534.5L295.5 543.9L300.0 551.4Z" fill="#c6c8ca" stroke="#c6c8ca" stroke-width="0.7" stroke-linejoin="round"/>
<path d="M292.5 534.5L283.0 533.5L286.0 542.9L295.5 543.9Z" fill="#c6c8ca" stroke="#c6c8ca" stroke-width="0.7" stroke-linejoin="round"/>
<path d="M283.0 533.5L275.0 532.0L278.0 541.4L286.0 542.9Z" fill="#c6c8ca" stroke="#c6c8ca" stroke-width="0.7" stroke-linejoin="round"/>
<path d="M297.5 486.0L296.0 482.0L299.0 491.4L300.5 495.4Z" fill="#c6c8ca" stroke="#c6c8ca" stroke-width="0.7" stroke-linejoin="round"/>
<path d="M296.0 482.0L292.0 477.0L295.0 486.4L299.0 491.4Z" fill="#c6c8ca" stroke="#c6c8ca" stroke-width="0.7" stroke-linejoin="round"/>
<path d="M292.0 477.0L289.5 472.0L292.5 481.4L295.0 486.4Z" fill="#c6c8ca" stroke="#c6c8ca" stroke-width="0.7" stroke-linejoin="round"/>
<path d="M304.9 431.1L302.0 426.5L305.0 435.9L307.9 440.5Z" fill="#c6c8ca" stroke="#c6c8ca" stroke-width="0.7" stroke-linejoin="round"/>
<path d="M302.0 426.5L299.2 422.0L302.2 431.4L305.0 435.9Z" fill="#c6c8ca" stroke="#c6c8ca" stroke-width="0.7" stroke-linejoin="round"/>
<path d="M296.9 410.5L294.5 404.5L297.5 413.9L299.9 419.9Z" fill="#c6c8ca" stroke="#c6c8ca" stroke-width="0.7" stroke-linejoin="round"/>
<path d="M294.5 404.5L292.3 399.0L295.3 408.4L297.5 413.9Z" fill="#c6c8ca" stroke="#c6c8ca" stroke-width="0.7" stroke-linejoin="round"/>
<path d="M316.4 379.4L314.0 376.0L317.0 385.4L319.4 388.8Z" fill="#c6c8ca" stroke="#c6c8ca" stroke-width="0.7" stroke-linejoin="round"/>
<path d="M314.0 376.0L311.8 372.5L314.8 381.9L317.0 385.4Z" fill="#c6c8ca" stroke="#c6c8ca" stroke-width="0.7" stroke-linejoin="round"/>
<path d="M354.4 295.0L350.5 292.0L353.5 301.4L357.4 304.4Z" fill="#c6c8ca" stroke="#c6c8ca" stroke-width="0.7" stroke-linejoin="round"/>
<path d="M350.5 292.0L347.1 289.2L350.1 298.6L353.5 301.4Z" fill="#c6c8ca" stroke="#c6c8ca" stroke-width="0.7" stroke-linejoin="round"/>
<path d="M347.1 289.2L345.5 286.5L348.5 295.9L350.1 298.6Z" fill="#c6c8ca" stroke="#c6c8ca" stroke-width="0.7" stroke-linejoin="round"/>
<path d="M345.5 286.5L344.2 283.4L347.2 292.8L348.5 295.9Z" fill="#c6c8ca" stroke="#c6c8ca" stroke-width="0.7" stroke-linejoin="round"/>
<path d="M344.2 276.2L340.0 270.0L342.2 280.6L346.4 286.8Z" fill="#c6c8ca" stroke="#c6c8ca" stroke-width="0.7" stroke-linejoin="round"/>
<path d="M340.0 270.0L334.1 264.6L336.3 275.2L342.2 280.6Z" fill="#c6c8ca" stroke="#c6c8ca" stroke-width="0.7" stroke-linejoin="round"/>
<path d="M334.1 264.6L330.5 267.5L332.7 278.1L336.3 275.2Z" fill="#c6c8ca" stroke="#c6c8ca" stroke-width="0.7" stroke-linejoin="round"/>
<path d="M330.5 267.5L326.9 269.7L329.1 280.3L332.7 278.1Z" fill="#c6c8ca" stroke="#c6c8ca" stroke-width="0.7" stroke-linejoin="round"/>
<path d="M326.9 269.7L324.0 271.0L326.2 281.6L329.1 280.3Z" fill="#c6c8ca" stroke="#c6c8ca" stroke-width="0.7" stroke-linejoin="round"/>
<path d="M324.0 271.0L321.1 272.6L323.3 283.2L326.2 281.6Z" fill="#c6c8ca" stroke="#c6c8ca" stroke-width="0.7" stroke-linejoin="round"/>
<path d="M321.1 272.6L318.2 275.5L320.4 286.1L323.3 283.2Z" fill="#c6c8ca" stroke="#c6c8ca" stroke-width="0.7" stroke-linejoin="round"/>
<path d="M318.2 275.5L312.4 274.7L314.6 285.3L320.4 286.1Z" fill="#c6c8ca" stroke="#c6c8ca" stroke-width="0.7" stroke-linejoin="round"/>
<path d="M312.4 274.7L305.2 276.2L307.4 286.8L314.6 285.3Z" fill="#c6c8ca" stroke="#c6c8ca" stroke-width="0.7" stroke-linejoin="round"/>
<path d="M305.2 276.2L299.4 272.6L301.6 283.2L307.4 286.8Z" fill="#c6c8ca" stroke="#c6c8ca" stroke-width="0.7" stroke-linejoin="round"/>
<path d="M299.4 272.6L295.0 272.6L297.2 283.2L301.6 283.2Z" fill="#c6c8ca" stroke="#c6c8ca" stroke-width="0.7" stroke-linejoin="round"/>
<path d="M295.0 272.6L290.7 269.7L292.9 280.3L297.2 283.2Z" fill="#c6c8ca" stroke="#c6c8ca" stroke-width="0.7" stroke-linejoin="round"/>
<path d="M290.7 269.7L287.8 272.6L290.0 283.2L292.9 280.3Z" fill="#c6c8ca" stroke="#c6c8ca" stroke-width="0.7" stroke-linejoin="round"/>
<path d="M287.8 272.6L283.4 271.1L285.6 281.7L290.0 283.2Z" fill="#c6c8ca" stroke="#c6c8ca" stroke-width="0.7" stroke-linejoin="round"/>
<path d="M283.4 271.1L281.3 265.3L283.5 275.9L285.6 281.7Z" fill="#c6c8ca" stroke="#c6c8ca" stroke-width="0.7" stroke-linejoin="round"/>
<path d="M282.0 259.5L277.5 258.0L279.7 268.6L284.2 270.1Z" fill="#c6c8ca" stroke="#c6c8ca" stroke-width="0.7" stroke-linejoin="round"/>
<path d="M277.5 258.0L273.3 257.1L275.5 267.7L279.7 268.6Z" fill="#c6c8ca" stroke="#c6c8ca" stroke-width="0.7" stroke-linejoin="round"/>
<path d="M273.3 257.1L267.5 257.3L269.7 267.9L275.5 267.7Z" fill="#c6c8ca" stroke="#c6c8ca" stroke-width="0.7" stroke-linejoin="round"/>
<path d="M267.5 257.3L261.7 258.1L263.9 268.7L269.7 267.9Z" fill="#c6c8ca" stroke="#c6c8ca" stroke-width="0.7" stroke-linejoin="round"/>
<path d="M261.7 258.1L256.0 260.0L258.2 270.6L263.9 268.7Z" fill="#c6c8ca" stroke="#c6c8ca" stroke-width="0.7" stroke-linejoin="round"/>
<path d="M256.0 260.0L250.9 261.7L253.1 272.3L258.2 270.6Z" fill="#c6c8ca" stroke="#c6c8ca" stroke-width="0.7" stroke-linejoin="round"/>
<path d="M256.5 231.7L254.0 226.0L257.0 235.4L259.5 241.1Z" fill="#c6c8ca" stroke="#c6c8ca" stroke-width="0.7" stroke-linejoin="round"/>
<path d="M254.0 226.0L251.9 220.2L254.9 229.6L257.0 235.4Z" fill="#c6c8ca" stroke="#c6c8ca" stroke-width="0.7" stroke-linejoin="round"/>
<path d="M253.0 214.4L250.5 211.5L253.5 220.9L256.0 223.8Z" fill="#c6c8ca" stroke="#c6c8ca" stroke-width="0.7" stroke-linejoin="round"/>
<path d="M250.5 211.5L248.4 208.7L251.4 218.1L253.5 220.9Z" fill="#c6c8ca" stroke="#c6c8ca" stroke-width="0.7" stroke-linejoin="round"/>
<path d="M341.5 282 L354.4 294 L355.5 301 L351 307 L347 302 L343.5 296 Z" fill="#c6c8ca" stroke="#e6ecf4" stroke-width="1"/>
<path d="M558.3 234.5L557.6 240.0L559.1 244.8L559.8 239.3Z" fill="#6c7074" stroke="#6c7074" stroke-width="0.7" stroke-linejoin="round"/>
<path d="M745.5 293.0L746.8 296.9L749.0 301.3L747.7 297.4Z" fill="#a6a8ab" stroke="#a6a8ab" stroke-width="0.7" stroke-linejoin="round"/>
<path d="M746.8 296.9L746.0 304.0L748.2 308.4L749.0 301.3Z" fill="#a6a8ab" stroke="#a6a8ab" stroke-width="0.7" stroke-linejoin="round"/>
<path d="M746.0 304.0L744.0 311.0L746.2 315.4L748.2 308.4Z" fill="#a6a8ab" stroke="#a6a8ab" stroke-width="0.7" stroke-linejoin="round"/>
<path d="M744.0 311.0L739.9 317.6L742.1 322.0L746.2 315.4Z" fill="#a6a8ab" stroke="#a6a8ab" stroke-width="0.7" stroke-linejoin="round"/>
<path d="M739.9 317.6L735.5 321.5L737.7 325.9L742.1 322.0Z" fill="#a6a8ab" stroke="#a6a8ab" stroke-width="0.7" stroke-linejoin="round"/>
<path d="M735.5 321.5L730.7 324.5L732.9 328.9L737.7 325.9Z" fill="#a6a8ab" stroke="#a6a8ab" stroke-width="0.7" stroke-linejoin="round"/>
<path d="M730.7 324.5L718.0 332.0L720.2 336.4L732.9 328.9Z" fill="#a6a8ab" stroke="#a6a8ab" stroke-width="0.7" stroke-linejoin="round"/>
<path d="M718.0 332.0L705.4 339.4L707.6 343.8L720.2 336.4Z" fill="#a6a8ab" stroke="#a6a8ab" stroke-width="0.7" stroke-linejoin="round"/>
<path d="M705.4 339.4L695.0 345.0L697.2 349.4L707.6 343.8Z" fill="#a6a8ab" stroke="#a6a8ab" stroke-width="0.7" stroke-linejoin="round"/>
<path d="M695.0 345.0L684.7 349.8L686.9 354.2L697.2 349.4Z" fill="#a6a8ab" stroke="#a6a8ab" stroke-width="0.7" stroke-linejoin="round"/>
<path d="M684.7 349.8L671.0 353.5L673.2 357.9L686.9 354.2Z" fill="#a6a8ab" stroke="#a6a8ab" stroke-width="0.7" stroke-linejoin="round"/>
<path d="M671.0 353.5L657.1 356.7L659.3 361.1L673.2 357.9Z" fill="#a6a8ab" stroke="#a6a8ab" stroke-width="0.7" stroke-linejoin="round"/>
<path d="M657.1 356.7L650.0 360.0L652.2 364.4L659.3 361.1Z" fill="#a6a8ab" stroke="#a6a8ab" stroke-width="0.7" stroke-linejoin="round"/>
<path d="M650.0 360.0L643.3 363.6L645.5 368.0L652.2 364.4Z" fill="#a6a8ab" stroke="#a6a8ab" stroke-width="0.7" stroke-linejoin="round"/>
<path d="M643.3 363.6L639.5 367.0L641.7 371.4L645.5 368.0Z" fill="#a6a8ab" stroke="#a6a8ab" stroke-width="0.7" stroke-linejoin="round"/>
<path d="M639.5 367.0L637.6 370.5L639.8 374.9L641.7 371.4Z" fill="#a6a8ab" stroke="#a6a8ab" stroke-width="0.7" stroke-linejoin="round"/>
<path d="M637.6 370.5L639.0 375.5L641.2 379.9L639.8 374.9Z" fill="#a6a8ab" stroke="#a6a8ab" stroke-width="0.7" stroke-linejoin="round"/>
<path d="M639.0 375.5L639.9 380.8L642.1 385.2L641.2 379.9Z" fill="#a6a8ab" stroke="#a6a8ab" stroke-width="0.7" stroke-linejoin="round"/>
<path d="M639.9 380.8L633.0 385.0L635.2 389.4L642.1 385.2Z" fill="#a6a8ab" stroke="#a6a8ab" stroke-width="0.7" stroke-linejoin="round"/>
<path d="M633.0 385.0L624.9 388.9L627.1 393.3L635.2 389.4Z" fill="#a6a8ab" stroke="#a6a8ab" stroke-width="0.7" stroke-linejoin="round"/>
<path d="M624.9 388.9L622.0 391.0L624.2 395.4L627.1 393.3Z" fill="#a6a8ab" stroke="#a6a8ab" stroke-width="0.7" stroke-linejoin="round"/>
<path d="M622.0 391.0L616.0 400.0L618.2 404.4L624.2 395.4Z" fill="#a6a8ab" stroke="#a6a8ab" stroke-width="0.7" stroke-linejoin="round"/>
<path d="M616.0 400.0L609.6 409.7L611.8 414.1L618.2 404.4Z" fill="#a6a8ab" stroke="#a6a8ab" stroke-width="0.7" stroke-linejoin="round"/>
<path d="M609.6 409.7L604.5 417.0L606.7 421.4L611.8 414.1Z" fill="#a6a8ab" stroke="#a6a8ab" stroke-width="0.7" stroke-linejoin="round"/>
<path d="M604.5 417.0L599.6 424.6L601.8 429.0L606.7 421.4Z" fill="#a6a8ab" stroke="#a6a8ab" stroke-width="0.7" stroke-linejoin="round"/>
<path d="M599.6 424.6L596.8 431.0L599.0 435.4L601.8 429.0Z" fill="#a6a8ab" stroke="#a6a8ab" stroke-width="0.7" stroke-linejoin="round"/>
<path d="M596.8 431.0L594.6 437.1L596.8 441.5L599.0 435.4Z" fill="#a6a8ab" stroke="#a6a8ab" stroke-width="0.7" stroke-linejoin="round"/>
<path d="M594.6 437.1L593.6 445.0L595.8 449.4L596.8 441.5Z" fill="#a6a8ab" stroke="#a6a8ab" stroke-width="0.7" stroke-linejoin="round"/>
<path d="M593.6 445.0L593.4 452.0L595.6 456.4L595.8 449.4Z" fill="#a6a8ab" stroke="#a6a8ab" stroke-width="0.7" stroke-linejoin="round"/>
<path d="M593.4 452.0L594.3 460.0L596.5 464.4L595.6 456.4Z" fill="#a6a8ab" stroke="#a6a8ab" stroke-width="0.7" stroke-linejoin="round"/>
<path d="M594.3 460.0L595.9 467.0L598.1 471.4L596.5 464.4Z" fill="#a6a8ab" stroke="#a6a8ab" stroke-width="0.7" stroke-linejoin="round"/>
<path d="M595.9 467.0L599.5 474.9L601.7 479.3L598.1 471.4Z" fill="#a6a8ab" stroke="#a6a8ab" stroke-width="0.7" stroke-linejoin="round"/>
<path d="M605.7 483.6L600.0 488.0L602.2 492.4L607.9 488.0Z" fill="#a6a8ab" stroke="#a6a8ab" stroke-width="0.7" stroke-linejoin="round"/>
<path d="M600.0 488.0L594.5 492.3L596.7 496.7L602.2 492.4Z" fill="#a6a8ab" stroke="#a6a8ab" stroke-width="0.7" stroke-linejoin="round"/>
<path d="M594.5 492.3L587.0 498.5L589.2 502.9L596.7 496.7Z" fill="#a6a8ab" stroke="#a6a8ab" stroke-width="0.7" stroke-linejoin="round"/>
<path d="M587.0 498.5L579.6 504.8L581.1 509.6L588.5 503.3Z" fill="#6c7074" stroke="#6c7074" stroke-width="0.7" stroke-linejoin="round"/>
<path d="M579.6 504.8L573.0 512.0L574.5 516.8L581.1 509.6Z" fill="#6c7074" stroke="#6c7074" stroke-width="0.7" stroke-linejoin="round"/>
<path d="M573.0 512.0L567.1 519.7L568.6 524.5L574.5 516.8Z" fill="#6c7074" stroke="#6c7074" stroke-width="0.7" stroke-linejoin="round"/>
<path d="M567.1 519.7L563.0 525.5L564.5 530.3L568.6 524.5Z" fill="#6c7074" stroke="#6c7074" stroke-width="0.7" stroke-linejoin="round"/>
<path d="M563.0 525.5L559.6 530.9L561.1 535.7L564.5 530.3Z" fill="#6c7074" stroke="#6c7074" stroke-width="0.7" stroke-linejoin="round"/>
<path d="M559.6 530.9L560.0 536.0L561.5 540.8L561.1 535.7Z" fill="#6c7074" stroke="#6c7074" stroke-width="0.7" stroke-linejoin="round"/>
<path d="M560.0 536.0L558.5 541.0L560.0 545.8L561.5 540.8Z" fill="#6c7074" stroke="#6c7074" stroke-width="0.7" stroke-linejoin="round"/>
<path d="M558.5 541.0L557.1 544.6L558.6 549.4L560.0 545.8Z" fill="#6c7074" stroke="#6c7074" stroke-width="0.7" stroke-linejoin="round"/>
<path d="M557.1 544.6L546.0 545.0L547.5 549.8L558.6 549.4Z" fill="#6c7074" stroke="#6c7074" stroke-width="0.7" stroke-linejoin="round"/>
<path d="M546.0 545.0L534.7 545.8L536.2 550.6L547.5 549.8Z" fill="#6c7074" stroke="#6c7074" stroke-width="0.7" stroke-linejoin="round"/>
<path d="M534.7 545.8L527.0 549.0L528.5 553.8L536.2 550.6Z" fill="#6c7074" stroke="#6c7074" stroke-width="0.7" stroke-linejoin="round"/>
<path d="M527.0 549.0L519.8 553.3L521.3 558.1L528.5 553.8Z" fill="#6c7074" stroke="#6c7074" stroke-width="0.7" stroke-linejoin="round"/>
<path d="M519.8 553.3L517.0 563.0L518.5 567.8L521.3 558.1Z" fill="#6c7074" stroke="#6c7074" stroke-width="0.7" stroke-linejoin="round"/>
<path d="M517.0 563.0L513.5 572.0L515.0 576.8L518.5 567.8Z" fill="#6c7074" stroke="#6c7074" stroke-width="0.7" stroke-linejoin="round"/>
<path d="M513.5 572.0L509.5 578.5L511.0 583.3L515.0 576.8Z" fill="#6c7074" stroke="#6c7074" stroke-width="0.7" stroke-linejoin="round"/>
<path d="M509.5 578.5L504.8 583.2L506.3 588.0L511.0 583.3Z" fill="#6c7074" stroke="#6c7074" stroke-width="0.7" stroke-linejoin="round"/>
<path d="M504.8 583.2L500.0 585.5L501.5 590.3L506.3 588.0Z" fill="#6c7074" stroke="#6c7074" stroke-width="0.7" stroke-linejoin="round"/>
<path d="M500.0 585.5L494.9 586.9L496.4 591.7L501.5 590.3Z" fill="#6c7074" stroke="#6c7074" stroke-width="0.7" stroke-linejoin="round"/>
<path d="M494.9 586.9L489.5 584.5L491.0 589.3L496.4 591.7Z" fill="#6c7074" stroke="#6c7074" stroke-width="0.7" stroke-linejoin="round"/>
<path d="M489.5 584.5L484.9 582.0L486.4 586.8L491.0 589.3Z" fill="#6c7074" stroke="#6c7074" stroke-width="0.7" stroke-linejoin="round"/>
<path d="M484.9 582.0L479.3 581.0L480.8 585.8L486.4 586.8Z" fill="#6c7074" stroke="#6c7074" stroke-width="0.7" stroke-linejoin="round"/>
<path d="M479.3 581.0L475.5 584.0L477.0 588.8L480.8 585.8Z" fill="#6c7074" stroke="#6c7074" stroke-width="0.7" stroke-linejoin="round"/>
<path d="M475.5 584.0L472.4 586.0L473.9 590.8L477.0 588.8Z" fill="#6c7074" stroke="#6c7074" stroke-width="0.7" stroke-linejoin="round"/>
<path d="M472.4 586.0L468.0 584.5L469.5 589.3L473.9 590.8Z" fill="#6c7074" stroke="#6c7074" stroke-width="0.7" stroke-linejoin="round"/>
<path d="M468.0 584.5L463.8 583.4L465.3 588.2L469.5 589.3Z" fill="#6c7074" stroke="#6c7074" stroke-width="0.7" stroke-linejoin="round"/>
<path d="M463.8 583.4L457.5 582.0L459.0 586.8L465.3 588.2Z" fill="#6c7074" stroke="#6c7074" stroke-width="0.7" stroke-linejoin="round"/>
<path d="M457.5 582.0L451.7 580.9L453.2 585.7L459.0 586.8Z" fill="#6c7074" stroke="#6c7074" stroke-width="0.7" stroke-linejoin="round"/>
<path d="M451.7 580.9L445.5 581.5L447.0 586.3L453.2 585.7Z" fill="#6c7074" stroke="#6c7074" stroke-width="0.7" stroke-linejoin="round"/>
<path d="M445.5 581.5L439.7 581.7L441.2 586.5L447.0 586.3Z" fill="#6c7074" stroke="#6c7074" stroke-width="0.7" stroke-linejoin="round"/>
<path d="M439.7 581.7L432.5 581.0L434.0 585.8L441.2 586.5Z" fill="#6c7074" stroke="#6c7074" stroke-width="0.7" stroke-linejoin="round"/>
<path d="M432.5 581.0L425.9 580.0L427.4 584.8L434.0 585.8Z" fill="#6c7074" stroke="#6c7074" stroke-width="0.7" stroke-linejoin="round"/>
<path d="M425.9 580.0L419.5 578.5L421.0 583.3L427.4 584.8Z" fill="#6c7074" stroke="#6c7074" stroke-width="0.7" stroke-linejoin="round"/>
<path d="M419.5 578.5L413.8 577.4L415.3 582.2L421.0 583.3Z" fill="#6c7074" stroke="#6c7074" stroke-width="0.7" stroke-linejoin="round"/>
<path d="M413.8 577.4L407.0 577.5L408.5 582.3L415.3 582.2Z" fill="#6c7074" stroke="#6c7074" stroke-width="0.7" stroke-linejoin="round"/>
<path d="M407.0 577.5L400.0 578.5L401.5 583.3L408.5 582.3Z" fill="#6c7074" stroke="#6c7074" stroke-width="0.7" stroke-linejoin="round"/>
<path d="M400.0 578.5L392.0 582.0L393.5 586.8L401.5 583.3Z" fill="#6c7074" stroke="#6c7074" stroke-width="0.7" stroke-linejoin="round"/>
<path d="M392.0 582.0L384.0 584.5L385.5 589.3L393.5 586.8Z" fill="#6c7074" stroke="#6c7074" stroke-width="0.7" stroke-linejoin="round"/>
<path d="M384.0 584.5L377.0 587.0L378.5 591.8L385.5 589.3Z" fill="#6c7074" stroke="#6c7074" stroke-width="0.7" stroke-linejoin="round"/>
<path d="M377.0 587.0L369.0 590.5L370.5 595.3L378.5 591.8Z" fill="#6c7074" stroke="#6c7074" stroke-width="0.7" stroke-linejoin="round"/>
<path d="M369.0 590.5L362.0 594.5L363.5 599.3L370.5 595.3Z" fill="#6c7074" stroke="#6c7074" stroke-width="0.7" stroke-linejoin="round"/>
<path d="M362.0 594.5L356.0 600.0L357.5 604.8L363.5 599.3Z" fill="#6c7074" stroke="#6c7074" stroke-width="0.7" stroke-linejoin="round"/>
<path d="M356.0 600.0L349.5 605.5L351.0 610.3L357.5 604.8Z" fill="#6c7074" stroke="#6c7074" stroke-width="0.7" stroke-linejoin="round"/>
<path d="M349.5 605.5L344.5 607.0L346.0 611.8L351.0 610.3Z" fill="#6c7074" stroke="#6c7074" stroke-width="0.7" stroke-linejoin="round"/>
<path d="M344.5 607.0L339.5 607.0L341.0 611.8L346.0 611.8Z" fill="#6c7074" stroke="#6c7074" stroke-width="0.7" stroke-linejoin="round"/>
<path d="M339.5 607.0L334.0 603.0L335.5 607.8L341.0 611.8Z" fill="#6c7074" stroke="#6c7074" stroke-width="0.7" stroke-linejoin="round"/>
<path d="M334.0 603.0L328.5 598.0L330.0 602.8L335.5 607.8Z" fill="#6c7074" stroke="#6c7074" stroke-width="0.7" stroke-linejoin="round"/>
<path d="M328.5 598.0L325.0 595.0L326.5 599.8L330.0 602.8Z" fill="#6c7074" stroke="#6c7074" stroke-width="0.7" stroke-linejoin="round"/>
<path d="M325.0 595.0L322.0 592.0L323.5 596.8L326.5 599.8Z" fill="#6c7074" stroke="#6c7074" stroke-width="0.7" stroke-linejoin="round"/>
<path d="M322.0 592.0L317.0 584.0L318.5 588.8L323.5 596.8Z" fill="#6c7074" stroke="#6c7074" stroke-width="0.7" stroke-linejoin="round"/>
<path d="M317.0 584.0L312.5 576.0L314.0 580.8L318.5 588.8Z" fill="#6c7074" stroke="#6c7074" stroke-width="0.7" stroke-linejoin="round"/>
<path d="M313.5 564.5L308.0 557.0L309.5 561.8L315.0 569.3Z" fill="#6c7074" stroke="#6c7074" stroke-width="0.7" stroke-linejoin="round"/>
<path d="M308.0 557.0L302.5 549.5L304.0 554.3L309.5 561.8Z" fill="#6c7074" stroke="#6c7074" stroke-width="0.7" stroke-linejoin="round"/>
<path d="M302.5 549.5L297.0 542.0L298.5 546.8L304.0 554.3Z" fill="#6c7074" stroke="#6c7074" stroke-width="0.7" stroke-linejoin="round"/>
<path d="M297.0 542.0L292.5 534.5L294.0 539.3L298.5 546.8Z" fill="#6c7074" stroke="#6c7074" stroke-width="0.7" stroke-linejoin="round"/>
<path d="M292.5 534.5L283.0 533.5L284.5 538.3L294.0 539.3Z" fill="#6c7074" stroke="#6c7074" stroke-width="0.7" stroke-linejoin="round"/>
<path d="M283.0 533.5L275.0 532.0L276.5 536.8L284.5 538.3Z" fill="#6c7074" stroke="#6c7074" stroke-width="0.7" stroke-linejoin="round"/>
<path d="M297.5 486.0L296.0 482.0L297.5 486.8L299.0 490.8Z" fill="#6c7074" stroke="#6c7074" stroke-width="0.7" stroke-linejoin="round"/>
<path d="M296.0 482.0L292.0 477.0L293.5 481.8L297.5 486.8Z" fill="#6c7074" stroke="#6c7074" stroke-width="0.7" stroke-linejoin="round"/>
<path d="M292.0 477.0L289.5 472.0L291.0 476.8L293.5 481.8Z" fill="#6c7074" stroke="#6c7074" stroke-width="0.7" stroke-linejoin="round"/>
<path d="M304.9 431.1L302.0 426.5L303.5 431.3L306.4 435.9Z" fill="#6c7074" stroke="#6c7074" stroke-width="0.7" stroke-linejoin="round"/>
<path d="M302.0 426.5L299.2 422.0L300.7 426.8L303.5 431.3Z" fill="#6c7074" stroke="#6c7074" stroke-width="0.7" stroke-linejoin="round"/>
<path d="M296.9 410.5L294.5 404.5L296.0 409.3L298.4 415.3Z" fill="#6c7074" stroke="#6c7074" stroke-width="0.7" stroke-linejoin="round"/>
<path d="M294.5 404.5L292.3 399.0L293.8 403.8L296.0 409.3Z" fill="#6c7074" stroke="#6c7074" stroke-width="0.7" stroke-linejoin="round"/>
<path d="M316.4 379.4L314.0 376.0L315.5 380.8L317.9 384.2Z" fill="#6c7074" stroke="#6c7074" stroke-width="0.7" stroke-linejoin="round"/>
<path d="M314.0 376.0L311.8 372.5L313.3 377.3L315.5 380.8Z" fill="#6c7074" stroke="#6c7074" stroke-width="0.7" stroke-linejoin="round"/>
<path d="M354.4 295.0L350.5 292.0L352.0 296.8L355.9 299.8Z" fill="#6c7074" stroke="#6c7074" stroke-width="0.7" stroke-linejoin="round"/>
<path d="M350.5 292.0L347.1 289.2L348.6 294.0L352.0 296.8Z" fill="#6c7074" stroke="#6c7074" stroke-width="0.7" stroke-linejoin="round"/>
<path d="M347.1 289.2L345.5 286.5L347.0 291.3L348.6 294.0Z" fill="#6c7074" stroke="#6c7074" stroke-width="0.7" stroke-linejoin="round"/>
<path d="M345.5 286.5L344.2 283.4L345.7 288.2L347.0 291.3Z" fill="#6c7074" stroke="#6c7074" stroke-width="0.7" stroke-linejoin="round"/>
<path d="M344.2 276.2L340.0 270.0L341.2 275.4L345.4 281.6Z" fill="#6c7074" stroke="#6c7074" stroke-width="0.7" stroke-linejoin="round"/>
<path d="M340.0 270.0L334.1 264.6L335.3 270.0L341.2 275.4Z" fill="#6c7074" stroke="#6c7074" stroke-width="0.7" stroke-linejoin="round"/>
<path d="M334.1 264.6L330.5 267.5L331.7 272.9L335.3 270.0Z" fill="#6c7074" stroke="#6c7074" stroke-width="0.7" stroke-linejoin="round"/>
<path d="M330.5 267.5L326.9 269.7L328.1 275.1L331.7 272.9Z" fill="#6c7074" stroke="#6c7074" stroke-width="0.7" stroke-linejoin="round"/>
<path d="M326.9 269.7L324.0 271.0L325.2 276.4L328.1 275.1Z" fill="#6c7074" stroke="#6c7074" stroke-width="0.7" stroke-linejoin="round"/>
<path d="M324.0 271.0L321.1 272.6L322.3 278.0L325.2 276.4Z" fill="#6c7074" stroke="#6c7074" stroke-width="0.7" stroke-linejoin="round"/>
<path d="M321.1 272.6L318.2 275.5L319.4 280.9L322.3 278.0Z" fill="#6c7074" stroke="#6c7074" stroke-width="0.7" stroke-linejoin="round"/>
<path d="M318.2 275.5L312.4 274.7L313.6 280.1L319.4 280.9Z" fill="#6c7074" stroke="#6c7074" stroke-width="0.7" stroke-linejoin="round"/>
<path d="M312.4 274.7L305.2 276.2L306.4 281.6L313.6 280.1Z" fill="#6c7074" stroke="#6c7074" stroke-width="0.7" stroke-linejoin="round"/>
<path d="M305.2 276.2L299.4 272.6L300.6 278.0L306.4 281.6Z" fill="#6c7074" stroke="#6c7074" stroke-width="0.7" stroke-linejoin="round"/>
<path d="M299.4 272.6L295.0 272.6L296.2 278.0L300.6 278.0Z" fill="#6c7074" stroke="#6c7074" stroke-width="0.7" stroke-linejoin="round"/>
<path d="M295.0 272.6L290.7 269.7L291.9 275.1L296.2 278.0Z" fill="#6c7074" stroke="#6c7074" stroke-width="0.7" stroke-linejoin="round"/>
<path d="M290.7 269.7L287.8 272.6L289.0 278.0L291.9 275.1Z" fill="#6c7074" stroke="#6c7074" stroke-width="0.7" stroke-linejoin="round"/>
<path d="M287.8 272.6L283.4 271.1L284.6 276.5L289.0 278.0Z" fill="#6c7074" stroke="#6c7074" stroke-width="0.7" stroke-linejoin="round"/>
<path d="M283.4 271.1L281.3 265.3L282.5 270.7L284.6 276.5Z" fill="#6c7074" stroke="#6c7074" stroke-width="0.7" stroke-linejoin="round"/>
<path d="M282.0 259.5L277.5 258.0L278.7 263.4L283.2 264.9Z" fill="#6c7074" stroke="#6c7074" stroke-width="0.7" stroke-linejoin="round"/>
<path d="M277.5 258.0L273.3 257.1L274.5 262.5L278.7 263.4Z" fill="#6c7074" stroke="#6c7074" stroke-width="0.7" stroke-linejoin="round"/>
<path d="M273.3 257.1L267.5 257.3L268.7 262.7L274.5 262.5Z" fill="#6c7074" stroke="#6c7074" stroke-width="0.7" stroke-linejoin="round"/>
<path d="M267.5 257.3L261.7 258.1L262.9 263.5L268.7 262.7Z" fill="#6c7074" stroke="#6c7074" stroke-width="0.7" stroke-linejoin="round"/>
<path d="M261.7 258.1L256.0 260.0L257.2 265.4L262.9 263.5Z" fill="#6c7074" stroke="#6c7074" stroke-width="0.7" stroke-linejoin="round"/>
<path d="M256.0 260.0L250.9 261.7L252.1 267.1L257.2 265.4Z" fill="#6c7074" stroke="#6c7074" stroke-width="0.7" stroke-linejoin="round"/>
<path d="M256.5 231.7L254.0 226.0L255.5 230.8L258.0 236.5Z" fill="#6c7074" stroke="#6c7074" stroke-width="0.7" stroke-linejoin="round"/>
<path d="M254.0 226.0L251.9 220.2L253.4 225.0L255.5 230.8Z" fill="#6c7074" stroke="#6c7074" stroke-width="0.7" stroke-linejoin="round"/>
<path d="M253.0 214.4L250.5 211.5L252.0 216.3L254.5 219.2Z" fill="#6c7074" stroke="#6c7074" stroke-width="0.7" stroke-linejoin="round"/>
<path d="M250.5 211.5L248.4 208.7L249.9 213.5L252.0 216.3Z" fill="#6c7074" stroke="#6c7074" stroke-width="0.7" stroke-linejoin="round"/>
<path d="M301.3 173.7 L306.0 174.3 L311.7 175.3 L316.0 177.0 L320.9 178.8 L324.0 182.0 L328.0 185.5 L332.0 188.0 L337.0 190.3 L345.0 190.0 L355.0 189.5 L365.0 190.0 L373.7 190.3 L384.0 192.5 L394.4 194.9 L400.0 197.0 L405.9 199.5 L416.0 202.0 L426.6 204.1 L435.0 207.5 L442.7 210.5 L455.0 210.5 L465.0 210.5 L474.9 211.0 L480.0 212.5 L484.0 213.5 L490.0 214.0 L496.0 214.0 L501.7 213.8 L507.2 213.1 L512.8 215.2 L520.0 217.5 L528.0 219.5 L536.2 222.1 L542.0 221.5 L547.2 221.4 L549.3 225.5 L552.5 227.5 L555.5 229.0 L557.5 232.0 L558.3 234.5 L557.6 240.0 L562.0 241.8 L566.6 242.8 L573.0 245.0 L579.0 246.9 L583.1 251.0 L586.5 254.5 L590.0 257.9 L594.1 259.3 L599.7 257.2 L605.0 259.0 L610.0 260.7 L617.0 263.5 L624.5 265.9 L632.0 267.0 L639.5 267.1 L640.5 263.0 L642.0 259.6 L647.0 260.8 L652.0 262.1 L658.0 264.5 L664.4 267.1 L668.5 272.0 L671.9 277.1 L675.5 279.5 L679.3 280.8 L689.0 281.5 L699.3 282.0 L708.0 284.5 L716.7 287.0 L725.5 285.5 L734.1 284.5 L739.0 286.5 L742.8 289.5 L745.5 293.0 L746.8 296.9 L746.0 304.0 L744.0 311.0 L739.9 317.6 L735.5 321.5 L730.7 324.5 L718.0 332.0 L705.4 339.4 L695.0 345.0 L684.7 349.8 L671.0 353.5 L657.1 356.7 L650.0 360.0 L643.3 363.6 L639.5 367.0 L637.6 370.5 L639.0 375.5 L639.9 380.8 L633.0 385.0 L624.9 388.9 L622.0 391.0 L616.0 400.0 L609.6 409.7 L604.5 417.0 L599.6 424.6 L596.8 431.0 L594.6 437.1 L593.6 445.0 L593.4 452.0 L594.3 460.0 L595.9 467.0 L599.5 474.9 L603.0 480.0 L605.7 483.6 L600.0 488.0 L594.5 492.3 L587.0 498.5 L579.6 504.8 L573.0 512.0 L567.1 519.7 L563.0 525.5 L559.6 530.9 L560.0 536.0 L558.5 541.0 L557.1 544.6 L546.0 545.0 L534.7 545.8 L527.0 549.0 L519.8 553.3 L517.0 563.0 L513.5 572.0 L509.5 578.5 L504.8 583.2 L500.0 585.5 L494.9 586.9 L489.5 584.5 L484.9 582.0 L479.3 581.0 L475.5 584.0 L472.4 586.0 L468.0 584.5 L463.8 583.4 L457.5 582.0 L451.7 580.9 L445.5 581.5 L439.7 581.7 L432.5 581.0 L425.9 580.0 L419.5 578.5 L413.8 577.4 L407.0 577.5 L400.0 578.5 L392.0 582.0 L384.0 584.5 L377.0 587.0 L369.0 590.5 L362.0 594.5 L356.0 600.0 L349.5 605.5 L344.5 607.0 L339.5 607.0 L334.0 603.0 L328.5 598.0 L325.0 595.0 L322.0 592.0 L317.0 584.0 L312.5 576.0 L313.0 570.0 L313.5 564.5 L308.0 557.0 L302.5 549.5 L297.0 542.0 L292.5 534.5 L283.0 533.5 L275.0 532.0 L273.5 520.0 L273.5 507.0 L277.5 499.5 L282.5 492.5 L290.0 489.0 L297.5 486.0 L296.0 482.0 L292.0 477.0 L289.5 472.0 L290.0 468.0 L290.0 463.0 L292.3 458.7 L296.5 452.0 L300.3 444.9 L302.5 438.0 L304.9 431.1 L302.0 426.5 L299.2 422.0 L298.0 416.0 L296.9 410.5 L294.5 404.5 L292.3 399.0 L298.0 398.5 L303.8 396.7 L308.5 393.0 L313.0 388.6 L315.0 384.0 L316.4 379.4 L314.0 376.0 L311.8 372.5 L314.0 370.5 L316.4 369.1 L319.5 367.5 L321.0 360.0 L322.5 352.5 L324.5 347.5 L325.4 344.2 L324.0 339.0 L323.3 334.1 L324.5 329.5 L326.9 325.4 L332.5 321.0 L338.5 316.7 L343.5 312.5 L348.6 308.0 L351.5 304.5 L354.4 300.8 L354.4 295.0 L350.5 292.0 L347.1 289.2 L345.5 286.5 L344.2 283.4 L344.2 276.2 L340.0 270.0 L334.1 264.6 L330.5 267.5 L326.9 269.7 L324.0 271.0 L321.1 272.6 L318.2 275.5 L312.4 274.7 L305.2 276.2 L299.4 272.6 L295.0 272.6 L290.7 269.7 L287.8 272.6 L283.4 271.1 L281.3 265.3 L282.0 259.5 L277.5 258.0 L273.3 257.1 L267.5 257.3 L261.7 258.1 L256.0 260.0 L250.9 261.7 L252.5 258.0 L254.5 254.5 L256.0 250.0 L257.4 245.8 L258.8 240.9 L257.5 236.0 L256.5 231.7 L254.0 226.0 L251.9 220.2 L252.5 217.0 L253.0 214.4 L250.5 211.5 L248.4 208.7 L248.5 205.0 L249.1 201.8 L252.5 198.0 L256.5 194.9 L262.0 192.5 L268.0 190.3 L276.0 189.3 L284.0 188.0 L287.0 185.0 L289.8 182.2 L295.5 178.0Z" fill="#ffff00"/>
<path d="M300.0 263.9 L300.0 273.0 L305.2 276.2 L312.4 274.7 L318.2 275.5 L321.1 272.6 L324.0 271.0 L326.9 269.7 L330.5 267.5 L334.1 264.6 L340.0 270.0 L344.2 276.2 L344.2 283.4 L345.5 286.5 L347.1 289.2 L350.5 292.0 L354.4 295.0 L354.4 300.8 L351.5 304.5 L348.6 308.0 L343.5 312.5 L338.5 316.7 L332.5 321.0 L326.9 325.4 L324.5 329.5 L323.3 334.1 L324.0 339.0 L325.4 344.2 L324.5 347.5 L322.5 352.5 L321.0 360.0 L319.5 367.5 L316.4 369.1 L326.8 372.5 L336.0 366.8 L345.2 363.3 L350.9 369.1 L359.0 372.5 L365.9 377.1 L378.5 382.9 L388.9 387.5 L404.9 384.0 L409.5 382.9 L416.4 380.1 L425.6 375.5 L427.9 366.8 L437.0 360.0 L450.9 348.4 L457.8 341.5 L464.7 337.4 L480.8 332.3 L496.9 334.6 L506.1 341.5 L510.7 346.1 L519.9 343.8 L521.5 333.7 L531.8 324.5 L534.1 313.0 L534.0 298.5 L528.0 293.5 L512.7 292.5 L494.8 291.0 L490.7 285.5 L487.9 277.2 L487.9 264.8 L490.7 260.7 L497.6 257.9 L492.8 252.4 L488.6 246.9 L492.8 234.5 L491.4 227.6 L489.0 226.0 L479.0 228.5 L456.7 233.5 L461.7 237.0 L459.0 244.7 L446.7 242.0 L446.7 234.7 L439.0 228.5 L429.0 227.0 L424.3 221.0 L394.4 222.0 L374.5 226.0 L357.0 222.0 L340.0 227.0 L340.4 229.4 L332.4 236.3 L331.2 244.3 L338.1 254.7 L336.0 259.5 L333.5 263.9Z" fill="url(#g_cyl)" stroke="#fff" stroke-opacity="0.8" stroke-width="0.9" stroke-linejoin="round"/>
<path d="M337.0 260.5 L339.2 255.9 L337.0 250.1 L332.7 245.8 L331.2 244.3 L331.5 240.5 L332.4 236.3 L336.0 233.0 L340.4 229.4 L338.5 221.0 L337.0 214.4 L340.4 212.1 L334.7 209.8 L332.5 204.5 L330.1 199.5 L333.5 195.0 L337.0 190.3 L332.0 188.0 L328.0 185.5 L324.0 182.0 L320.9 178.8 L316.0 177.0 L311.7 175.3 L306.0 174.3 L301.3 173.7 L295.5 178.0 L289.8 182.2 L287.0 185.0 L284.0 188.0 L276.0 189.3 L268.0 190.3 L262.0 192.5 L256.5 194.9 L252.5 198.0 L249.1 201.8 L248.5 205.0 L248.4 208.7 L250.5 211.5 L253.0 214.4 L252.5 217.0 L251.9 220.2 L254.0 226.0 L256.5 231.7 L257.5 236.0 L258.8 240.9 L257.4 245.8 L256.0 250.0 L254.5 254.5 L252.5 258.0 L250.9 261.7 L256.0 260.0 L261.7 258.1 L267.5 257.3 L273.3 257.1 L277.5 258.0 L282.0 259.5 L281.3 265.3 L283.4 271.1 L287.8 272.6 L290.7 269.7 L295.0 272.6 L299.4 272.6 L305.2 276.2 L312.4 274.7 L318.2 275.5 L321.1 272.6 L324.0 271.0 L326.9 269.7 L330.5 267.5 L334.1 264.6Z" fill="url(#g_gal)" stroke="#fff" stroke-opacity="0.8" stroke-width="0.9" stroke-linejoin="round"/>
<path d="M488.0 217.0 L485.0 221.5 L478.3 222.6 L478.3 225.6 L485.0 226.3 L491.4 227.6 L492.3 231.0 L492.8 234.5 L490.8 240.5 L488.6 246.9 L490.5 249.5 L492.8 252.4 L495.0 255.0 L497.6 257.9 L503.0 259.5 L508.6 260.7 L514.5 260.3 L521.0 259.3 L522.3 256.0 L523.8 252.4 L525.8 249.0 L527.9 245.5 L531.5 241.5 L534.8 237.9 L538.0 234.0 L541.7 229.7 L544.5 226.0 L547.2 222.1 L547.4 221.7 L547.2 221.4 L542.0 221.5 L536.2 222.1 L528.0 219.5 L520.0 217.5 L512.8 215.2 L507.2 213.1 L501.7 213.8 L496.0 214.0 L490.0 214.0 L486.5 213.7Z" fill="url(#g_bas)" stroke="#fff" stroke-opacity="0.8" stroke-width="0.9" stroke-linejoin="round"/>
<path d="M514.5 260.3 L508.6 260.7 L503.0 259.5 L497.6 257.9 L494.0 259.5 L490.7 260.7 L489.3 262.5 L487.9 264.8 L487.5 271.0 L487.9 277.2 L489.0 281.0 L490.7 285.5 L492.5 288.0 L494.8 291.0 L504.0 292.5 L512.7 292.5 L521.0 292.5 L528.0 293.5 L531.0 296.0 L534.0 298.5 L535.5 296.0 L536.9 293.8 L537.8 290.0 L538.3 285.5 L536.8 281.5 L534.8 277.2 L531.5 272.5 L527.9 267.6 L524.5 263.5 L521.0 259.3Z" fill="url(#g_rio)" stroke="#fff" stroke-opacity="0.8" stroke-width="0.9" stroke-linejoin="round"/>
<path d="M544.5 226.0 L541.7 229.7 L538.0 234.0 L534.8 237.9 L531.5 241.5 L527.9 245.5 L525.8 249.0 L523.8 252.4 L522.3 256.0 L521.0 259.3 L524.5 263.5 L527.9 267.6 L531.5 272.5 L534.8 277.2 L536.8 281.5 L538.3 285.5 L537.8 290.0 L536.9 293.8 L535.5 296.0 L534.0 298.5 L537.0 298.0 L541.0 299.5 L546.0 301.0 L551.4 300.0 L553.5 297.0 L555.5 293.8 L557.0 290.0 L558.3 285.5 L559.0 281.5 L559.7 277.2 L561.5 274.0 L563.8 270.3 L566.5 268.3 L569.3 266.2 L573.5 263.5 L577.6 260.7 L579.0 258.0 L580.3 255.2 L582.0 253.5 L583.1 251.0 L579.0 246.9 L573.0 245.0 L566.6 242.8 L562.0 241.8 L557.6 240.0 L558.3 234.5 L557.5 232.0 L555.5 229.0 L552.5 227.5 L549.3 225.5 L547.4 221.9 L547.2 222.1Z" fill="url(#g_nav)" stroke="#fff" stroke-opacity="0.8" stroke-width="0.9" stroke-linejoin="round"/>
<path d="M461.0 339.0 L457.8 341.5 L454.5 344.5 L450.9 348.4 L444.0 355.0 L437.0 360.0 L431.0 363.5 L427.9 366.8 L427.0 371.0 L425.6 375.5 L421.0 378.3 L416.4 380.1 L413.0 381.3 L409.5 382.9 L413.5 383.6 L417.6 384.0 L422.5 384.2 L427.9 384.0 L432.5 385.0 L437.1 386.3 L443.0 388.5 L448.6 390.9 L451.0 393.5 L453.2 396.7 L448.5 399.5 L444.0 402.4 L443.0 404.0 L442.9 405.9 L447.0 405.8 L450.9 404.7 L455.5 402.0 L460.1 399.0 L463.5 398.0 L467.0 397.8 L471.0 398.0 L475.1 399.0 L476.3 395.5 L476.7 391.6 L475.0 387.5 L472.8 382.9 L470.5 376.0 L468.2 369.1 L467.0 362.0 L465.9 355.3 L466.3 349.5 L467.0 343.8 L466.2 340.5 L464.7 337.4Z" fill="url(#g_mad)" stroke="#fff" stroke-opacity="0.8" stroke-width="0.9" stroke-linejoin="round"/>
<path d="M340.5 364.5 L336.0 366.8 L331.5 369.8 L326.8 372.5 L321.5 371.3 L316.4 369.1 L314.0 370.5 L311.8 372.5 L314.0 376.0 L316.4 379.4 L315.0 384.0 L313.0 388.6 L308.5 393.0 L303.8 396.7 L298.0 398.5 L292.3 399.0 L294.5 404.5 L296.9 410.5 L298.0 416.0 L299.2 422.0 L302.0 426.5 L304.9 431.1 L302.5 438.0 L300.3 444.9 L296.5 452.0 L292.3 458.7 L290.0 463.0 L290.0 468.0 L289.5 472.0 L292.0 477.0 L296.0 482.0 L297.5 486.0 L303.5 487.5 L309.8 489.8 L317.0 494.0 L324.8 498.5 L332.0 498.5 L339.7 498.5 L342.0 495.5 L344.7 492.3 L351.0 491.5 L357.1 491.0 L358.5 487.0 L359.6 482.3 L364.5 478.5 L369.6 475.0 L375.5 470.0 L382.0 464.5 L384.5 461.5 L386.6 458.7 L389.0 454.0 L391.1 449.5 L393.0 445.0 L394.6 440.3 L397.5 439.5 L400.3 438.0 L401.3 434.5 L401.5 431.1 L399.0 429.0 L395.7 426.6 L391.0 424.5 L386.6 422.0 L384.0 417.5 L382.0 412.8 L383.5 408.0 L384.3 403.6 L381.0 401.0 L377.4 397.8 L378.8 394.0 L379.7 389.8 L379.5 386.5 L378.5 382.9 L372.0 380.0 L365.9 377.1 L362.5 374.8 L359.0 372.5 L355.0 371.0 L350.9 369.1 L348.0 366.0 L345.2 363.3Z" fill="url(#g_ext)" stroke="#fff" stroke-opacity="0.8" stroke-width="0.9" stroke-linejoin="round"/>
<path d="M515.5 547.5 L511.0 542.0 L512.5 536.5 L513.5 531.0 L509.5 526.5 L506.1 522.2 L504.5 515.5 L502.3 508.5 L499.1 508.5 L494.0 507.5 L489.1 506.0 L489.5 500.0 L489.1 493.5 L486.5 490.5 L484.1 487.3 L476.5 488.0 L469.2 488.6 L462.0 488.0 L454.3 487.3 L444.5 488.5 L434.3 489.8 L424.0 489.5 L414.4 488.6 L407.0 485.0 L398.0 479.9 L394.5 476.0 L391.1 472.5 L386.5 468.5 L382.0 464.5 L375.5 470.0 L369.6 475.0 L364.5 478.5 L359.6 482.3 L358.5 487.0 L357.1 491.0 L351.0 491.5 L344.7 492.3 L342.0 495.5 L339.7 498.5 L332.0 498.5 L324.8 498.5 L317.0 494.0 L309.8 489.8 L303.5 487.5 L297.5 486.0 L290.0 489.0 L282.5 492.5 L277.5 499.5 L273.5 507.0 L273.5 520.0 L275.0 532.0 L283.0 533.5 L292.5 534.5 L297.0 542.0 L302.5 549.5 L308.0 557.0 L313.5 564.5 L313.0 570.0 L312.5 576.0 L317.0 584.0 L322.0 592.0 L325.0 595.0 L328.5 598.0 L334.0 603.0 L339.5 607.0 L344.5 607.0 L349.5 605.5 L356.0 600.0 L362.0 594.5 L369.0 590.5 L377.0 587.0 L384.0 584.5 L392.0 582.0 L400.0 578.5 L407.0 577.5 L413.8 577.4 L419.5 578.5 L425.9 580.0 L432.5 581.0 L439.7 581.7 L445.5 581.5 L451.7 580.9 L457.5 582.0 L463.8 583.4 L468.0 584.5 L472.4 586.0 L475.5 584.0 L479.3 581.0 L484.9 582.0 L489.5 584.5 L494.9 586.9 L500.0 585.5 L504.8 583.2 L509.5 578.5 L513.5 572.0 L517.0 563.0 L519.8 553.3Z" fill="url(#g_and)" stroke="#fff" stroke-opacity="0.8" stroke-width="0.9" stroke-linejoin="round"/>
<path d="M618.0 383.5 L613.4 378.5 L610.0 378.5 L606.6 378.5 L604.5 375.5 L602.0 372.8 L599.0 373.0 L596.2 373.9 L594.0 378.0 L591.6 382.0 L592.5 386.5 L592.8 391.1 L590.5 396.0 L588.2 400.3 L584.5 401.8 L581.3 402.6 L580.0 406.0 L579.0 409.5 L574.5 411.5 L569.8 413.0 L568.5 416.0 L567.5 418.7 L565.5 416.5 L564.0 415.3 L559.5 415.3 L554.8 415.3 L553.0 420.5 L551.4 425.6 L549.5 428.0 L547.9 430.2 L545.5 430.5 L543.6 430.8 L545.5 437.5 L547.3 444.5 L546.5 452.0 L546.1 459.5 L547.5 464.5 L548.6 469.4 L554.0 470.5 L559.8 471.9 L559.0 478.0 L558.5 484.4 L557.0 486.5 L555.9 488.6 L554.5 494.0 L553.4 499.8 L554.5 505.0 L555.9 509.7 L555.5 517.0 L554.6 524.7 L557.0 528.0 L559.6 531.0 L559.6 531.0 L559.6 530.9 L563.0 525.5 L567.1 519.7 L573.0 512.0 L579.6 504.8 L587.0 498.5 L594.5 492.3 L600.0 488.0 L605.7 483.6 L603.0 480.0 L599.5 474.9 L595.9 467.0 L594.3 460.0 L593.4 452.0 L593.6 445.0 L594.6 437.1 L596.8 431.0 L599.6 424.6 L604.5 417.0 L609.6 409.7 L616.0 400.0 L622.0 391.0 L624.9 388.9 L622.6 388.9Z" fill="url(#g_val)" stroke="#fff" stroke-opacity="0.8" stroke-width="0.9" stroke-linejoin="round"/>
<path d="M536.5 489.0 L537.2 493.5 L534.5 497.0 L532.2 501.0 L526.0 501.5 L519.8 502.3 L511.0 505.5 L502.3 508.5 L504.5 515.5 L506.1 522.2 L509.5 526.5 L513.5 531.0 L512.5 536.5 L511.0 542.0 L515.5 547.5 L519.8 553.3 L527.0 549.0 L534.7 545.8 L546.0 545.0 L557.1 544.6 L558.5 541.0 L560.0 536.0 L559.6 531.0 L559.6 531.0 L557.0 528.0 L554.6 524.7 L555.5 517.0 L555.9 509.7 L554.5 505.0 L553.4 499.8 L554.5 494.0 L555.9 488.6 L553.4 487.3 L551.0 485.0 L548.4 482.3 L542.0 483.5 L536.0 484.8Z" fill="url(#g_mur)" stroke="#fff" stroke-opacity="0.8" stroke-width="0.9" stroke-linejoin="round"/>
<g clip-path="url(#spainclip)">
<path d="M340.0 227.0 L348.0 224.0 L357.0 222.0 L366.0 224.0 L374.5 226.0 L384.0 224.0 L394.4 222.0 L404.0 220.5 L414.3 220.0 L424.3 221.0" fill="none" stroke="#fff" stroke-opacity="0.75" stroke-width="1"/>
<path d="M424.3 221.0 L428.0 217.0 L433.0 213.5 L437.0 208.0" fill="none" stroke="#fff" stroke-opacity="0.75" stroke-width="1"/>
<path d="M424.3 221.0 L426.0 225.0 L429.0 227.0 L434.0 228.0 L439.0 228.5 L443.0 231.0 L446.7 234.7 L447.0 238.5 L446.7 242.0 L452.0 243.5 L459.0 244.7 L461.0 241.0 L461.7 237.0 L459.0 235.0 L456.7 233.5 L468.0 231.0 L479.0 228.5 L485.0 227.5 L489.0 226.0" fill="none" stroke="#fff" stroke-opacity="0.75" stroke-width="1"/>
<path d="M464.7 337.4 L472.5 334.5 L480.8 332.3 L489.0 333.0 L496.9 334.6 L501.5 338.0 L506.1 341.5 L510.7 346.1 L515.5 345.0 L519.9 343.8 L520.5 339.0 L521.5 333.7" fill="none" stroke="#fff" stroke-opacity="0.75" stroke-width="1"/>
<path d="M521.5 333.7 L527.0 329.0 L531.8 324.5 L533.0 318.5 L534.1 313.0 L534.1 303.8 L534.0 298.5" fill="none" stroke="#fff" stroke-opacity="0.75" stroke-width="1"/>
<path d="M409.5 382.9 L404.9 384.0 L397.0 386.0 L388.9 387.5 L383.5 385.5 L378.5 382.9" fill="none" stroke="#fff" stroke-opacity="0.75" stroke-width="1"/>
<path d="M521.5 333.7 L520.6 339.5 L520.3 345.2 L525.5 350.0 L530.7 354.4 L535.5 359.0 L539.9 363.6 L539.0 369.5 L537.6 375.1 L534.0 382.0 L530.7 388.9 L535.5 393.5 L539.9 398.0 L545.5 400.5 L551.4 402.6 L557.0 404.0 L562.9 404.9 L565.5 409.5 L567.5 414.1" fill="none" stroke="#fff" stroke-opacity="0.75" stroke-width="1"/>
<path d="M642.0 259.6 L643.0 266.0 L643.2 272.1 L641.5 281.0 L639.5 289.5 L637.6 292.0 L636.0 297.0 L634.1 303.8 L631.0 310.5 L627.2 317.6 L625.5 322.0 L623.8 326.8 L624.5 332.5 L624.9 338.3 L622.5 344.0 L620.3 349.8 L618.5 354.5 L616.9 359.0 L615.5 365.0 L614.6 370.5 L614.0 374.5 L613.4 378.5" fill="none" stroke="#fff" stroke-opacity="0.75" stroke-width="1"/>
</g>
<path d="M301.3 173.7 L306.0 174.3 L311.7 175.3 L316.0 177.0 L320.9 178.8 L324.0 182.0 L328.0 185.5 L332.0 188.0 L337.0 190.3 L345.0 190.0 L355.0 189.5 L365.0 190.0 L373.7 190.3 L384.0 192.5 L394.4 194.9 L400.0 197.0 L405.9 199.5 L416.0 202.0 L426.6 204.1 L435.0 207.5 L442.7 210.5 L455.0 210.5 L465.0 210.5 L474.9 211.0 L480.0 212.5 L484.0 213.5 L490.0 214.0 L496.0 214.0 L501.7 213.8 L507.2 213.1 L512.8 215.2 L520.0 217.5 L528.0 219.5 L536.2 222.1 L542.0 221.5 L547.2 221.4 L549.3 225.5 L552.5 227.5 L555.5 229.0 L557.5 232.0 L558.3 234.5 L557.6 240.0 L562.0 241.8 L566.6 242.8 L573.0 245.0 L579.0 246.9 L583.1 251.0 L586.5 254.5 L590.0 257.9 L594.1 259.3 L599.7 257.2 L605.0 259.0 L610.0 260.7 L617.0 263.5 L624.5 265.9 L632.0 267.0 L639.5 267.1 L640.5 263.0 L642.0 259.6 L647.0 260.8 L652.0 262.1 L658.0 264.5 L664.4 267.1 L668.5 272.0 L671.9 277.1 L675.5 279.5 L679.3 280.8 L689.0 281.5 L699.3 282.0 L708.0 284.5 L716.7 287.0 L725.5 285.5 L734.1 284.5 L739.0 286.5 L742.8 289.5 L745.5 293.0 L746.8 296.9 L746.0 304.0 L744.0 311.0 L739.9 317.6 L735.5 321.5 L730.7 324.5 L718.0 332.0 L705.4 339.4 L695.0 345.0 L684.7 349.8 L671.0 353.5 L657.1 356.7 L650.0 360.0 L643.3 363.6 L639.5 367.0 L637.6 370.5 L639.0 375.5 L639.9 380.8 L633.0 385.0 L624.9 388.9 L622.0 391.0 L616.0 400.0 L609.6 409.7 L604.5 417.0 L599.6 424.6 L596.8 431.0 L594.6 437.1 L593.6 445.0 L593.4 452.0 L594.3 460.0 L595.9 467.0 L599.5 474.9 L603.0 480.0 L605.7 483.6 L600.0 488.0 L594.5 492.3 L587.0 498.5 L579.6 504.8 L573.0 512.0 L567.1 519.7 L563.0 525.5 L559.6 530.9 L560.0 536.0 L558.5 541.0 L557.1 544.6 L546.0 545.0 L534.7 545.8 L527.0 549.0 L519.8 553.3 L517.0 563.0 L513.5 572.0 L509.5 578.5 L504.8 583.2 L500.0 585.5 L494.9 586.9 L489.5 584.5 L484.9 582.0 L479.3 581.0 L475.5 584.0 L472.4 586.0 L468.0 584.5 L463.8 583.4 L457.5 582.0 L451.7 580.9 L445.5 581.5 L439.7 581.7 L432.5 581.0 L425.9 580.0 L419.5 578.5 L413.8 577.4 L407.0 577.5 L400.0 578.5 L392.0 582.0 L384.0 584.5 L377.0 587.0 L369.0 590.5 L362.0 594.5 L356.0 600.0 L349.5 605.5 L344.5 607.0 L339.5 607.0 L334.0 603.0 L328.5 598.0 L325.0 595.0 L322.0 592.0 L317.0 584.0 L312.5 576.0 L313.0 570.0 L313.5 564.5 L308.0 557.0 L302.5 549.5 L297.0 542.0 L292.5 534.5 L283.0 533.5 L275.0 532.0 L273.5 520.0 L273.5 507.0 L277.5 499.5 L282.5 492.5 L290.0 489.0 L297.5 486.0 L296.0 482.0 L292.0 477.0 L289.5 472.0 L290.0 468.0 L290.0 463.0 L292.3 458.7 L296.5 452.0 L300.3 444.9 L302.5 438.0 L304.9 431.1 L302.0 426.5 L299.2 422.0 L298.0 416.0 L296.9 410.5 L294.5 404.5 L292.3 399.0 L298.0 398.5 L303.8 396.7 L308.5 393.0 L313.0 388.6 L315.0 384.0 L316.4 379.4 L314.0 376.0 L311.8 372.5 L314.0 370.5 L316.4 369.1 L319.5 367.5 L321.0 360.0 L322.5 352.5 L324.5 347.5 L325.4 344.2 L324.0 339.0 L323.3 334.1 L324.5 329.5 L326.9 325.4 L332.5 321.0 L338.5 316.7 L343.5 312.5 L348.6 308.0 L351.5 304.5 L354.4 300.8 L354.4 295.0 L350.5 292.0 L347.1 289.2 L345.5 286.5 L344.2 283.4 L344.2 276.2 L340.0 270.0 L334.1 264.6 L330.5 267.5 L326.9 269.7 L324.0 271.0 L321.1 272.6 L318.2 275.5 L312.4 274.7 L305.2 276.2 L299.4 272.6 L295.0 272.6 L290.7 269.7 L287.8 272.6 L283.4 271.1 L281.3 265.3 L282.0 259.5 L277.5 258.0 L273.3 257.1 L267.5 257.3 L261.7 258.1 L256.0 260.0 L250.9 261.7 L252.5 258.0 L254.5 254.5 L256.0 250.0 L257.4 245.8 L258.8 240.9 L257.5 236.0 L256.5 231.7 L254.0 226.0 L251.9 220.2 L252.5 217.0 L253.0 214.4 L250.5 211.5 L248.4 208.7 L248.5 205.0 L249.1 201.8 L252.5 198.0 L256.5 194.9 L262.0 192.5 L268.0 190.3 L276.0 189.3 L284.0 188.0 L287.0 185.0 L289.8 182.2 L295.5 178.0Z" fill="none" stroke="#fff" stroke-opacity="0.9" stroke-width="1.1"/>
<path d="M603.5 488.5 L594.5 495.5 L587 501.5 L579.5 508 L573 515 L567 523 L562.5 530" fill="none" stroke="#3cf03c" stroke-width="3" stroke-linecap="round"/>
<path d="M692.3 433.0 L694.8 429.9 L702.3 427.4 L710.0 426.8 L717.2 426.1 L725.9 425.5 L729.7 429.2 L728.8 433.0 L727.2 436.1 L724.7 442.3 L719.7 447.9 L714.7 448.5 L711.0 445.4 L706.0 444.8 L703.5 439.8 L701.0 437.3 L697.3 439.8 L693.5 437.3Z" fill="url(#g_mal)" stroke="#ffe890" stroke-opacity="0.8" stroke-width="0.8" stroke-linejoin="round"/>
<path d="M738.4 415.5 L743.4 413.7 L750.8 414.9 L755.8 418.7 L757.7 423.6 L754.6 426.1 L750.8 423.0 L745.9 420.5 L740.9 419.3Z" fill="url(#g_men)" stroke="#ffe890" stroke-opacity="0.8" stroke-width="0.8" stroke-linejoin="round"/>
<path d="M653.7 461.0 L657.4 456.0 L663.7 454.2 L668.6 455.4 L668.0 459.1 L663.7 462.9 L658.7 466.6 L654.9 464.7Z" fill="url(#g_ibi)" stroke="#ffe890" stroke-opacity="0.8" stroke-width="0.8" stroke-linejoin="round"/>
<rect x="499.5" y="596.5" width="212" height="124" fill="none" stroke="#3b6fd0" stroke-width="1"/>
<path d="M522.0 642.0 L527.5 641.0 L533.7 641.7 L535.0 645.5 L534.8 649.8 L533.0 655.0 L530.2 660.0 L527.0 655.5 L524.5 651.0 L522.5 646.5Z" transform="translate(-1,2.2)" fill="#ff9418" stroke="#ff9418" stroke-width="1.6" stroke-linejoin="round"/>
<path d="M522.0 642.0 L527.5 641.0 L533.7 641.7 L535.0 645.5 L534.8 649.8 L533.0 655.0 L530.2 660.0 L527.0 655.5 L524.5 651.0 L522.5 646.5Z" fill="url(#g_can)"/>
<path d="M568.0 664.7 L575.0 662.5 L582.0 660.0 L585.5 657.5 L588.9 654.4 L593.5 653.0 L598.0 653.2 L600.0 655.5 L600.3 657.8 L596.0 662.0 L591.0 665.9 L589.0 671.5 L586.6 677.4 L584.0 680.0 L580.8 682.0 L577.0 678.5 L573.9 675.0 L571.0 670.0Z" transform="translate(-1,2.2)" fill="#ff9418" stroke="#ff9418" stroke-width="1.6" stroke-linejoin="round"/>
<path d="M568.0 664.7 L575.0 662.5 L582.0 660.0 L585.5 657.5 L588.9 654.4 L593.5 653.0 L598.0 653.2 L600.0 655.5 L600.3 657.8 L596.0 662.0 L591.0 665.9 L589.0 671.5 L586.6 677.4 L584.0 680.0 L580.8 682.0 L577.0 678.5 L573.9 675.0 L571.0 670.0Z" fill="url(#g_can)"/>
<path d="M669.3 677.4 L671.5 674.0 L673.9 670.5 L677.5 666.0 L680.8 661.3 L683.5 654.5 L685.4 647.5 L689.0 644.5 L692.3 642.9 L694.5 647.0 L695.7 652.0 L695.0 659.0 L693.4 665.9 L689.5 668.5 L685.4 670.5 L682.0 674.0 L678.5 677.4 L675.0 679.0 L671.6 679.7Z" transform="translate(-1,2.2)" fill="#ff9418" stroke="#ff9418" stroke-width="1.6" stroke-linejoin="round"/>
<path d="M669.3 677.4 L671.5 674.0 L673.9 670.5 L677.5 666.0 L680.8 661.3 L683.5 654.5 L685.4 647.5 L689.0 644.5 L692.3 642.9 L694.5 647.0 L695.7 652.0 L695.0 659.0 L693.4 665.9 L689.5 668.5 L685.4 670.5 L682.0 674.0 L678.5 677.4 L675.0 679.0 L671.6 679.7Z" fill="url(#g_can)"/>
<path d="M692.3 638.3 L691.5 635.0 L692.3 631.4 L695.5 627.5 L699.2 624.5 L702.5 622.5 L706.1 621.0 L708.5 624.0 L709.5 627.9 L708.5 631.5 L706.1 634.8 L701.5 637.5 L696.9 639.4Z" transform="translate(-1,2.2)" fill="#ff9418" stroke="#ff9418" stroke-width="1.6" stroke-linejoin="round"/>
<path d="M692.3 638.3 L691.5 635.0 L692.3 631.4 L695.5 627.5 L699.2 624.5 L702.5 622.5 L706.1 621.0 L708.5 624.0 L709.5 627.9 L708.5 631.5 L706.1 634.8 L701.5 637.5 L696.9 639.4Z" fill="url(#g_can)"/>
<circle cx="554.5" cy="677.2" r="6.3999999999999995" fill="#ff9418"/>
<circle cx="555.5" cy="675" r="5.6" fill="url(#g_can)"/>
<circle cx="621.9" cy="685.2" r="10.600000000000001" fill="#ff9418"/>
<circle cx="622.9" cy="683" r="9.8" fill="url(#g_can)"/>
<text transform="translate(363.2,188.7) scale(1.045,1)" class="ml">MEDIO BAJO</text>
<text transform="translate(363.4,205.9) scale(1.045,1)" class="ml">6.35</text>
<text transform="translate(451,210.5) scale(1.045,1)" class="ml">MEDIO BAJO</text>
<text transform="translate(451,227.9) scale(1.045,1)" class="ml">6.60</text>
<text transform="translate(305.1,230.1) scale(1.045,1)" class="ml">IRRELEVANTE</text>
<text transform="translate(305.2,247.3) scale(1.045,1)" class="ml">3.65</text>
<text transform="translate(511.7,226.5) scale(1.045,1)" class="ml">MEDIO</text>
<text transform="translate(511.9,243.9) scale(1.045,1)" class="ml">7.35</text>
<text transform="translate(555,249.9) scale(1.045,1)" class="ml">ALTO</text>
<text transform="translate(555.1,267.6) scale(1.045,1)" class="ml">7.15</text>
<text transform="translate(509.7,273.8) scale(1.045,1)" class="ml">MEDIO</text>
<text transform="translate(509.7,291) scale(1.045,1)" class="ml">6.85</text>
<text transform="translate(418.7,284.5) scale(1.045,1)" class="ml">MEDIO BAJO</text>
<text transform="translate(418.6,301.8) scale(1.045,1)" class="ml">6.65</text>
<text transform="translate(578,332.1) scale(1.045,1)" class="ml">MEDIO BAJO</text>
<text transform="translate(577.8,349.3) scale(1.045,1)" class="ml">5.85</text>
<text transform="translate(693.1,312.5) scale(1.045,1)" class="ml">MEDIO BAJO</text>
<text transform="translate(693.3,330.2) scale(1.045,1)" class="ml">6.35</text>
<text transform="translate(448.6,361) scale(1.045,1)" class="ml">IRRELEVANTE</text>
<text transform="translate(448.6,378.3) scale(1.045,1)" class="ml">2.75</text>
<text transform="translate(340.4,420.8) scale(1.045,1)" class="ml">DÉBIL</text>
<text transform="translate(339.9,438) scale(1.045,1)" class="ml">4.60</text>
<text transform="translate(463.7,433.4) scale(1.045,1)" class="ml">MEDIO BAJO</text>
<text transform="translate(464,450.7) scale(1.045,1)" class="ml">6.25</text>
<text transform="translate(577.8,444.5) scale(1.045,1)" class="ml">IRRELEVANTE</text>
<text transform="translate(577.9,462.2) scale(1.045,1)" class="ml">0.60</text>
<text transform="translate(704,414.1) scale(1.045,1)" class="ml">DÉBIL</text>
<text transform="translate(704.3,431.4) scale(1.045,1)" class="ml">3.15</text>
<text transform="translate(391.4,534.6) scale(1.045,1)" class="ml">IRRELEVANTE</text>
<text transform="translate(391.5,551.3) scale(1.045,1)" class="ml">4.40</text>
<text transform="translate(530,522.2) scale(1.045,1)" class="ml">IRRELEVANTE</text>
<text transform="translate(530.6,539.6) scale(1.045,1)" class="ml">2.80</text>
<text transform="translate(573.9,624.5) scale(1.045,1)" class="ml">IRRELEVANTE</text>
<text transform="translate(574.1,641.7) scale(1.045,1)" class="ml">2.00</text>
<rect x="818" y="98.30" width="21" height="1.8" fill="#fff"/>
<rect x="829" y="102.62" width="10" height="1.8" fill="#e8eef5"/>
<rect x="829" y="106.94" width="10" height="1.8" fill="#e8eef5"/>
<rect x="829" y="111.26" width="10" height="1.8" fill="#e8eef5"/>
<rect x="829" y="115.58" width="10" height="1.8" fill="#e8eef5"/>
<rect x="829" y="119.90" width="10" height="1.8" fill="#e8eef5"/>
<rect x="829" y="124.22" width="10" height="1.8" fill="#e8eef5"/>
<rect x="829" y="128.54" width="10" height="1.8" fill="#e8eef5"/>
<rect x="829" y="132.86" width="10" height="1.8" fill="#e8eef5"/>
<rect x="829" y="137.18" width="10" height="1.8" fill="#e8eef5"/>
<rect x="818" y="141.50" width="21" height="1.8" fill="#fff"/>
<rect x="829" y="145.82" width="10" height="1.8" fill="#e8eef5"/>
<rect x="829" y="150.14" width="10" height="1.8" fill="#e8eef5"/>
<rect x="829" y="154.46" width="10" height="1.8" fill="#e8eef5"/>
<rect x="829" y="158.78" width="10" height="1.8" fill="#e8eef5"/>
<rect x="829" y="163.10" width="10" height="1.8" fill="#e8eef5"/>
<rect x="829" y="167.42" width="10" height="1.8" fill="#e8eef5"/>
<rect x="829" y="171.74" width="10" height="1.8" fill="#e8eef5"/>
<rect x="829" y="176.06" width="10" height="1.8" fill="#e8eef5"/>
<rect x="829" y="180.38" width="10" height="1.8" fill="#e8eef5"/>
<rect x="818" y="184.70" width="21" height="1.8" fill="#fff"/>
<rect x="829" y="189.02" width="10" height="1.8" fill="#e8eef5"/>
<rect x="829" y="193.34" width="10" height="1.8" fill="#e8eef5"/>
<rect x="829" y="197.66" width="10" height="1.8" fill="#e8eef5"/>
<rect x="829" y="201.98" width="10" height="1.8" fill="#e8eef5"/>
<rect x="829" y="206.30" width="10" height="1.8" fill="#e8eef5"/>
<rect x="829" y="210.62" width="10" height="1.8" fill="#e8eef5"/>
<rect x="829" y="214.94" width="10" height="1.8" fill="#e8eef5"/>
<rect x="829" y="219.26" width="10" height="1.8" fill="#e8eef5"/>
<rect x="829" y="223.58" width="10" height="1.8" fill="#e8eef5"/>
<rect x="818" y="227.90" width="21" height="1.8" fill="#fff"/>
<rect x="829" y="232.22" width="10" height="1.8" fill="#e8eef5"/>
<rect x="829" y="236.54" width="10" height="1.8" fill="#e8eef5"/>
<rect x="829" y="240.86" width="10" height="1.8" fill="#e8eef5"/>
<rect x="829" y="245.18" width="10" height="1.8" fill="#e8eef5"/>
<rect x="829" y="249.50" width="10" height="1.8" fill="#e8eef5"/>
<rect x="829" y="253.82" width="10" height="1.8" fill="#e8eef5"/>
<rect x="829" y="258.14" width="10" height="1.8" fill="#e8eef5"/>
<rect x="829" y="262.46" width="10" height="1.8" fill="#e8eef5"/>
<rect x="829" y="266.78" width="10" height="1.8" fill="#e8eef5"/>
<rect x="818" y="271.10" width="21" height="1.8" fill="#fff"/>
<rect x="829" y="275.42" width="10" height="1.8" fill="#e8eef5"/>
<rect x="829" y="279.74" width="10" height="1.8" fill="#e8eef5"/>
<rect x="829" y="284.06" width="10" height="1.8" fill="#e8eef5"/>
<rect x="829" y="288.38" width="10" height="1.8" fill="#e8eef5"/>
<rect x="829" y="292.70" width="10" height="1.8" fill="#e8eef5"/>
<rect x="829" y="297.02" width="10" height="1.8" fill="#e8eef5"/>
<rect x="829" y="301.34" width="10" height="1.8" fill="#e8eef5"/>
<rect x="829" y="305.66" width="10" height="1.8" fill="#e8eef5"/>
<rect x="829" y="309.98" width="10" height="1.8" fill="#e8eef5"/>
<rect x="818" y="314.30" width="21" height="1.8" fill="#fff"/>
<rect x="829" y="318.62" width="10" height="1.8" fill="#e8eef5"/>
<rect x="829" y="322.94" width="10" height="1.8" fill="#e8eef5"/>
<rect x="829" y="327.26" width="10" height="1.8" fill="#e8eef5"/>
<rect x="829" y="331.58" width="10" height="1.8" fill="#e8eef5"/>
<rect x="829" y="335.90" width="10" height="1.8" fill="#e8eef5"/>
<rect x="829" y="340.22" width="10" height="1.8" fill="#e8eef5"/>
<rect x="829" y="344.54" width="10" height="1.8" fill="#e8eef5"/>
<rect x="829" y="348.86" width="10" height="1.8" fill="#e8eef5"/>
<rect x="829" y="353.18" width="10" height="1.8" fill="#e8eef5"/>
<rect x="818" y="357.50" width="21" height="1.8" fill="#fff"/>
<rect x="829" y="361.82" width="10" height="1.8" fill="#e8eef5"/>
<rect x="829" y="366.14" width="10" height="1.8" fill="#e8eef5"/>
<rect x="829" y="370.46" width="10" height="1.8" fill="#e8eef5"/>
<rect x="829" y="374.78" width="10" height="1.8" fill="#e8eef5"/>
<rect x="829" y="379.10" width="10" height="1.8" fill="#e8eef5"/>
<rect x="829" y="383.42" width="10" height="1.8" fill="#e8eef5"/>
<rect x="829" y="387.74" width="10" height="1.8" fill="#e8eef5"/>
<rect x="829" y="392.06" width="10" height="1.8" fill="#e8eef5"/>
<rect x="829" y="396.38" width="10" height="1.8" fill="#e8eef5"/>
<rect x="818" y="400.70" width="21" height="1.8" fill="#fff"/>
<rect x="829" y="405.02" width="10" height="1.8" fill="#e8eef5"/>
<rect x="829" y="409.34" width="10" height="1.8" fill="#e8eef5"/>
<rect x="829" y="413.66" width="10" height="1.8" fill="#e8eef5"/>
<rect x="829" y="417.98" width="10" height="1.8" fill="#e8eef5"/>
<rect x="829" y="422.30" width="10" height="1.8" fill="#e8eef5"/>
<rect x="829" y="426.62" width="10" height="1.8" fill="#e8eef5"/>
<rect x="829" y="430.94" width="10" height="1.8" fill="#e8eef5"/>
<rect x="829" y="435.26" width="10" height="1.8" fill="#e8eef5"/>
<rect x="829" y="439.58" width="10" height="1.8" fill="#e8eef5"/>
<rect x="818" y="443.90" width="21" height="1.8" fill="#fff"/>
<rect x="829" y="448.22" width="10" height="1.8" fill="#e8eef5"/>
<rect x="829" y="452.54" width="10" height="1.8" fill="#e8eef5"/>
<rect x="829" y="456.86" width="10" height="1.8" fill="#e8eef5"/>
<rect x="829" y="461.18" width="10" height="1.8" fill="#e8eef5"/>
<rect x="829" y="465.50" width="10" height="1.8" fill="#e8eef5"/>
<rect x="829" y="469.82" width="10" height="1.8" fill="#e8eef5"/>
<rect x="829" y="474.14" width="10" height="1.8" fill="#e8eef5"/>
<rect x="829" y="478.46" width="10" height="1.8" fill="#e8eef5"/>
<rect x="829" y="482.78" width="10" height="1.8" fill="#e8eef5"/>
<rect x="818" y="487.10" width="21" height="1.8" fill="#fff"/>
<rect x="829" y="491.42" width="10" height="1.8" fill="#e8eef5"/>
<rect x="829" y="495.74" width="10" height="1.8" fill="#e8eef5"/>
<rect x="829" y="500.06" width="10" height="1.8" fill="#e8eef5"/>
<rect x="829" y="504.38" width="10" height="1.8" fill="#e8eef5"/>
<rect x="829" y="508.70" width="10" height="1.8" fill="#e8eef5"/>
<rect x="829" y="513.02" width="10" height="1.8" fill="#e8eef5"/>
<rect x="829" y="517.34" width="10" height="1.8" fill="#e8eef5"/>
<rect x="829" y="521.66" width="10" height="1.8" fill="#e8eef5"/>
<rect x="829" y="525.98" width="10" height="1.8" fill="#e8eef5"/>
<rect x="818" y="530.30" width="21" height="1.8" fill="#fff"/>
<rect x="871" y="73.8" width="35" height="399.2" rx="17.5" ry="17.5" fill="url(#tubeg)"/>
<circle cx="890.8" cy="492.6" r="52" fill="#ff0c00"/>
<rect x="818" y="98.2" width="118" height="2" fill="#fff"/>
<rect x="818" y="205.8" width="119" height="2" fill="#fff"/>
<rect x="818" y="315.4" width="115" height="2" fill="#fff"/>
<text transform="translate(814.2,105.4) scale(0.72,1)" text-anchor="end" class="num" style="font-size:15.6px">10</text>
<text transform="translate(814.2,211.6) scale(0.72,1)" text-anchor="end" class="num" style="font-size:16px">7,5</text>
<text transform="translate(814.2,320) scale(0.72,1)" text-anchor="end" class="num" style="font-size:14.6px">5</text>
<text transform="translate(914.3,143.7) rotate(-90) scale(0.7,1)" text-anchor="middle" class="tiny">EXCELENTE</text>
<text transform="translate(914.3,253.5) rotate(-90) scale(0.95,1)" text-anchor="middle" class="tiny">MEDIO</text>
<text transform="translate(914.3,347) rotate(-90) scale(0.95,1)" text-anchor="middle" class="tiny">DÉBIL</text>
<text transform="translate(937.3,152.5) scale(1.12,1)" class="dec">DEC</text>
<text transform="translate(937.3,223.5) scale(1.12,1)" class="dec">DEC</text>
<text transform="translate(937.3,250) scale(1.12,1)" class="dec">Dec</text>
<text transform="translate(937.3,275.8) scale(1.12,1)" class="dec">DeC</text>
<text transform="translate(937.3,302) scale(1.12,1)" class="dec">dEC</text>
<text transform="translate(937.3,322.8) scale(1.12,1)" class="dec">Dec</text>
<text transform="translate(937.3,362.2) scale(1.12,1)" class="dec">Dec</text>
<text transform="translate(937.3,385.6) scale(1.12,1)" class="dec">dEc</text>
<text transform="translate(937.3,420) scale(1.12,1)" class="dec">deC</text>
<text transform="translate(937.3,458.6) scale(1.12,1)" class="dec">dec</text>
<path d="M972.6 134.5 H975.4 V154 H972.6" fill="none" stroke="#fff" stroke-width="1.4"/>
<path d="M972.6 206 H975.4 V225 H972.6" fill="none" stroke="#fff" stroke-width="1.4"/>
<rect x="974" y="241" width="1.4" height="63" fill="#fff"/><rect x="972.6" y="241" width="2.8" height="4" fill="#fff"/><rect x="972.6" y="300" width="2.8" height="4" fill="#fff"/>
<path d="M972.6 308.5 H975.4 V327 H972.6" fill="none" stroke="#fff" stroke-width="1.4"/>
<rect x="974" y="347" width="1.4" height="81.5" fill="#fff"/><rect x="972.6" y="347" width="2.8" height="4" fill="#fff"/><rect x="972.6" y="424.5" width="2.8" height="4" fill="#fff"/>
<path d="M972.6 439.5 H975.4 V458.5 H972.6" fill="none" stroke="#fff" stroke-width="1.4"/>
<text transform="translate(979,148.3) scale(0.85,1)" class="lvl">EXCELENE</text>
<text transform="translate(979,219) scale(0.85,1)" class="lvl">ALTO</text>
<text transform="translate(979,252) scale(0.85,1)" class="lvl">MEDIO ALTO</text>
<text transform="translate(979,275.2) scale(0.85,1)" class="lvl">MEDIO</text>
<text transform="translate(979,295) scale(0.85,1)" class="lvl">MEDIO  BAJO</text>
<text transform="translate(979,320.7) scale(0.85,1)" class="lvl">MEDIO BAJO</text>
<text transform="translate(979,390) scale(0.85,1)" class="lvl">MEDIO BAJO</text>
<text transform="translate(979,413.7) scale(0.85,1)" class="lvl">DÉBIL</text>
<text transform="translate(979,457) scale(0.85,1)" class="lvl">IRRELEVANTE</text>
<path d="M865 627 L875.4 601 L884 582 L890 592 L896 603 L902.5 614 L909 626 L914.7 637.6 L891 636 Z" fill="#fff"/>
<circle cx="865.2" cy="627.4" r="16" fill="#fff"/>
<circle cx="891.4" cy="633.2" r="11.6" fill="#fff"/>
<circle cx="875.4" cy="601.2" r="11.6" fill="#fff"/>
<circle cx="884.1" cy="582.2" r="6.4" fill="#fff"/>
<circle cx="890" cy="592.4" r="5.8" fill="#fff"/>
<circle cx="895.8" cy="602.6" r="5.8" fill="#fff"/>
<circle cx="902.5" cy="614.3" r="5.8" fill="#fff"/>
<circle cx="908.9" cy="625.9" r="5.8" fill="#fff"/>
<circle cx="914.7" cy="637.6" r="5.8" fill="#fff"/>
<circle cx="885.6" cy="611.3" r="10.2" fill="#fff"/>
<circle cx="898" cy="622" r="7" fill="#fff"/>
<circle cx="887.1" cy="567.1" r="2.9" fill="#fff"/>
<circle cx="890.3" cy="573.0" r="2.9" fill="#fff"/>
<circle cx="893.5" cy="578.9" r="2.9" fill="#fff"/>
<circle cx="896.6" cy="584.7" r="2.9" fill="#fff"/>
<circle cx="899.8" cy="590.6" r="2.9" fill="#fff"/>
<circle cx="903.0" cy="596.5" r="2.9" fill="#fff"/>
<circle cx="906.2" cy="602.4" r="2.9" fill="#fff"/>
<circle cx="909.3" cy="608.2" r="2.9" fill="#fff"/>
<circle cx="912.5" cy="614.1" r="2.9" fill="#fff"/>
<circle cx="915.7" cy="620.0" r="2.9" fill="#fff"/>
<circle cx="918.9" cy="625.9" r="2.9" fill="#fff"/>
<circle cx="922.0" cy="631.7" r="2.9" fill="#fff"/>
<circle cx="925.2" cy="637.6" r="2.9" fill="#fff"/>
<circle cx="888.5" cy="716.8" r="3.2" fill="#fff"/>
<circle cx="158.9" cy="689.5" r="0.8" fill="#9fc0ee" fill-opacity="0.7"/>
<text x="771.5" y="671.6" class="as1" id="as1" style="letter-spacing:7.1px">ASOCIACIÓNESTATALDE</text>
<text x="780" y="686.6" class="as2" id="as2" style="letter-spacing:4.06px">DIRECTORESYGERENTESEN</text>
<text x="807" y="696.8" class="as2" id="as3" style="letter-spacing:3.98px">SERVICIOSSOCIALES</text>
</svg>
</div>
</body></html>
